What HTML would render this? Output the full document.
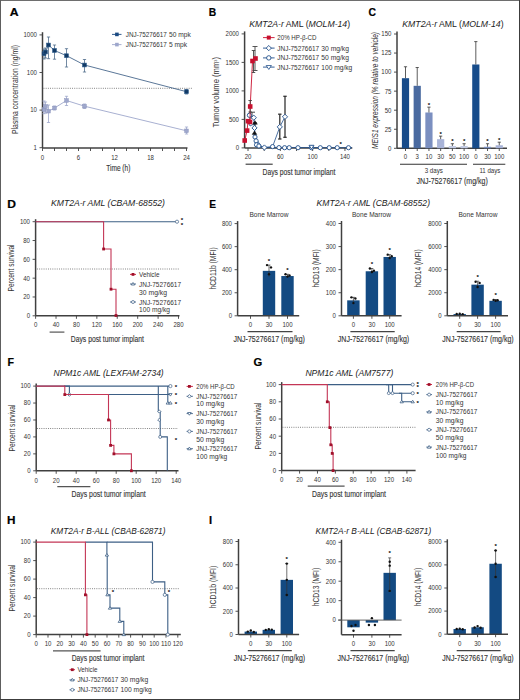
<!DOCTYPE html>
<html><head><meta charset="utf-8"><style>
html,body{margin:0;padding:0;background:#fff;}
svg{display:block;font-family:"Liberation Sans", sans-serif;}
</style></head><body>
<svg width="520" height="700" viewBox="0 0 520 700">
<rect x="0" y="0" width="520" height="700" fill="#fff"/>
<text x="0" y="0" font-size="10.9" font-weight="bold" fill="#000" stroke="#000" stroke-width="0.2" transform="translate(9.64 15.95) scale(1.121 1)">A</text>
<line x1="42.5" y1="32.2" x2="42.5" y2="148" stroke="#404040" stroke-width="1.5"/>
<line x1="39.5" y1="34.9" x2="42.5" y2="34.9" stroke="#404040" stroke-width="0.9"/>
<text x="36.9" y="37.28" font-size="6.6" text-anchor="end" fill="#333" textLength="13.48" lengthAdjust="spacingAndGlyphs">1000</text>
<line x1="39.5" y1="72.5" x2="42.5" y2="72.5" stroke="#404040" stroke-width="0.9"/>
<text x="36.9" y="74.88" font-size="6.6" text-anchor="end" fill="#333" textLength="10.11" lengthAdjust="spacingAndGlyphs">100</text>
<line x1="39.5" y1="110.1" x2="42.5" y2="110.1" stroke="#404040" stroke-width="0.9"/>
<text x="36.9" y="112.48" font-size="6.6" text-anchor="end" fill="#333" textLength="6.74" lengthAdjust="spacingAndGlyphs">10</text>
<line x1="39.5" y1="147.7" x2="42.5" y2="147.7" stroke="#404040" stroke-width="0.9"/>
<text x="36.9" y="150.08" font-size="6.6" text-anchor="end" fill="#333" textLength="3.37" lengthAdjust="spacingAndGlyphs">1</text>
<line x1="42.5" y1="148" x2="187.5" y2="148" stroke="#404040" stroke-width="1.5"/>
<line x1="42.5" y1="148" x2="42.5" y2="151" stroke="#404040" stroke-width="0.9"/>
<text x="42.5" y="159.88" font-size="6.6" text-anchor="middle" fill="#333" textLength="3.37" lengthAdjust="spacingAndGlyphs">0</text>
<line x1="54.5" y1="148" x2="54.5" y2="151" stroke="#404040" stroke-width="0.9"/>
<line x1="66.5" y1="148" x2="66.5" y2="151" stroke="#404040" stroke-width="0.9"/>
<line x1="78.5" y1="148" x2="78.5" y2="151" stroke="#404040" stroke-width="0.9"/>
<text x="78.5" y="159.88" font-size="6.6" text-anchor="middle" fill="#333" textLength="3.37" lengthAdjust="spacingAndGlyphs">6</text>
<line x1="90.5" y1="148" x2="90.5" y2="151" stroke="#404040" stroke-width="0.9"/>
<line x1="102.5" y1="148" x2="102.5" y2="151" stroke="#404040" stroke-width="0.9"/>
<line x1="114.5" y1="148" x2="114.5" y2="151" stroke="#404040" stroke-width="0.9"/>
<text x="114.5" y="159.88" font-size="6.6" text-anchor="middle" fill="#333" textLength="6.74" lengthAdjust="spacingAndGlyphs">12</text>
<line x1="126.5" y1="148" x2="126.5" y2="151" stroke="#404040" stroke-width="0.9"/>
<line x1="138.5" y1="148" x2="138.5" y2="151" stroke="#404040" stroke-width="0.9"/>
<line x1="150.5" y1="148" x2="150.5" y2="151" stroke="#404040" stroke-width="0.9"/>
<text x="150.5" y="159.88" font-size="6.6" text-anchor="middle" fill="#333" textLength="6.74" lengthAdjust="spacingAndGlyphs">18</text>
<line x1="162.5" y1="148" x2="162.5" y2="151" stroke="#404040" stroke-width="0.9"/>
<line x1="174.5" y1="148" x2="174.5" y2="151" stroke="#404040" stroke-width="0.9"/>
<line x1="186.5" y1="148" x2="186.5" y2="151" stroke="#404040" stroke-width="0.9"/>
<text x="186.5" y="159.88" font-size="6.6" text-anchor="middle" fill="#333" textLength="6.74" lengthAdjust="spacingAndGlyphs">24</text>
<text x="106.2" y="171.41" font-size="8.6" fill="#333" stroke="#333" stroke-width="0.12" font-style="normal" textLength="24.2" lengthAdjust="spacingAndGlyphs">Time (h)</text>
<text x="17.98" y="89.5" font-size="8.8" fill="#333" stroke="#333" stroke-width="0.0" text-anchor="middle" font-style="normal" textLength="89" lengthAdjust="spacingAndGlyphs" transform="rotate(-90 17.98 89.5)">Plasma concentration (ng/ml)</text>
<line x1="43.5" y1="88.3" x2="193" y2="88.3" stroke="#555" stroke-width="0.8" stroke-dasharray="0.9 1.3"/>
<polyline points="44,109.5 45.5,106.5 48.5,111.2 54.5,108 66.5,100.5 84.5,106.2 186.5,130.8" fill="none" stroke="#9ea7cc" stroke-width="0.9"/>
<line x1="44" y1="101" x2="44" y2="113.7" stroke="#9ea7cc" stroke-width="0.8"/>
<line x1="42.4" y1="101" x2="45.6" y2="101" stroke="#9ea7cc" stroke-width="0.8"/>
<line x1="42.4" y1="113.7" x2="45.6" y2="113.7" stroke="#9ea7cc" stroke-width="0.8"/>
<line x1="45.5" y1="102" x2="45.5" y2="113" stroke="#9ea7cc" stroke-width="0.8"/>
<line x1="43.9" y1="102" x2="47.1" y2="102" stroke="#9ea7cc" stroke-width="0.8"/>
<line x1="43.9" y1="113" x2="47.1" y2="113" stroke="#9ea7cc" stroke-width="0.8"/>
<line x1="48.5" y1="105" x2="48.5" y2="122.5" stroke="#9ea7cc" stroke-width="0.8"/>
<line x1="46.9" y1="105" x2="50.1" y2="105" stroke="#9ea7cc" stroke-width="0.8"/>
<line x1="46.9" y1="122.5" x2="50.1" y2="122.5" stroke="#9ea7cc" stroke-width="0.8"/>
<line x1="54.5" y1="106" x2="54.5" y2="110" stroke="#9ea7cc" stroke-width="0.8"/>
<line x1="52.9" y1="106" x2="56.1" y2="106" stroke="#9ea7cc" stroke-width="0.8"/>
<line x1="52.9" y1="110" x2="56.1" y2="110" stroke="#9ea7cc" stroke-width="0.8"/>
<line x1="66.5" y1="96.3" x2="66.5" y2="105.5" stroke="#9ea7cc" stroke-width="0.8"/>
<line x1="64.9" y1="96.3" x2="68.1" y2="96.3" stroke="#9ea7cc" stroke-width="0.8"/>
<line x1="64.9" y1="105.5" x2="68.1" y2="105.5" stroke="#9ea7cc" stroke-width="0.8"/>
<line x1="84.5" y1="104" x2="84.5" y2="108.5" stroke="#9ea7cc" stroke-width="0.8"/>
<line x1="82.9" y1="104" x2="86.1" y2="104" stroke="#9ea7cc" stroke-width="0.8"/>
<line x1="82.9" y1="108.5" x2="86.1" y2="108.5" stroke="#9ea7cc" stroke-width="0.8"/>
<line x1="186.5" y1="127" x2="186.5" y2="134" stroke="#9ea7cc" stroke-width="0.8"/>
<line x1="184.9" y1="127" x2="188.1" y2="127" stroke="#9ea7cc" stroke-width="0.8"/>
<line x1="184.9" y1="134" x2="188.1" y2="134" stroke="#9ea7cc" stroke-width="0.8"/>
<rect x="42.2" y="107.7" width="3.6" height="3.6" fill="#9ea7cc" stroke="#8a93bb" stroke-width="0.5"/>
<rect x="43.7" y="104.7" width="3.6" height="3.6" fill="#9ea7cc" stroke="#8a93bb" stroke-width="0.5"/>
<rect x="46.7" y="109.4" width="3.6" height="3.6" fill="#9ea7cc" stroke="#8a93bb" stroke-width="0.5"/>
<rect x="52.7" y="106.2" width="3.6" height="3.6" fill="#9ea7cc" stroke="#8a93bb" stroke-width="0.5"/>
<rect x="64.7" y="98.7" width="3.6" height="3.6" fill="#9ea7cc" stroke="#8a93bb" stroke-width="0.5"/>
<rect x="82.7" y="104.4" width="3.6" height="3.6" fill="#9ea7cc" stroke="#8a93bb" stroke-width="0.5"/>
<rect x="184.7" y="129" width="3.6" height="3.6" fill="#9ea7cc" stroke="#8a93bb" stroke-width="0.5"/>
<polyline points="44,53.7 45.5,52 48.5,45 54.5,50.5 66.5,55.7 84.5,65 186.5,91.7" fill="none" stroke="#3d5f85" stroke-width="0.85"/>
<line x1="44" y1="49" x2="44" y2="59" stroke="#4f6c8c" stroke-width="0.8"/>
<line x1="42.4" y1="49" x2="45.6" y2="49" stroke="#4f6c8c" stroke-width="0.8"/>
<line x1="42.4" y1="59" x2="45.6" y2="59" stroke="#4f6c8c" stroke-width="0.8"/>
<line x1="45.5" y1="48" x2="45.5" y2="58" stroke="#4f6c8c" stroke-width="0.8"/>
<line x1="43.9" y1="48" x2="47.1" y2="48" stroke="#4f6c8c" stroke-width="0.8"/>
<line x1="43.9" y1="58" x2="47.1" y2="58" stroke="#4f6c8c" stroke-width="0.8"/>
<line x1="48.5" y1="37" x2="48.5" y2="58.7" stroke="#4f6c8c" stroke-width="0.8"/>
<line x1="46.9" y1="37" x2="50.1" y2="37" stroke="#4f6c8c" stroke-width="0.8"/>
<line x1="46.9" y1="58.7" x2="50.1" y2="58.7" stroke="#4f6c8c" stroke-width="0.8"/>
<line x1="54.5" y1="45" x2="54.5" y2="59.2" stroke="#4f6c8c" stroke-width="0.8"/>
<line x1="52.9" y1="45" x2="56.1" y2="45" stroke="#4f6c8c" stroke-width="0.8"/>
<line x1="52.9" y1="59.2" x2="56.1" y2="59.2" stroke="#4f6c8c" stroke-width="0.8"/>
<line x1="66.5" y1="48.7" x2="66.5" y2="67" stroke="#4f6c8c" stroke-width="0.8"/>
<line x1="64.9" y1="48.7" x2="68.1" y2="48.7" stroke="#4f6c8c" stroke-width="0.8"/>
<line x1="64.9" y1="67" x2="68.1" y2="67" stroke="#4f6c8c" stroke-width="0.8"/>
<line x1="84.5" y1="59.5" x2="84.5" y2="72" stroke="#4f6c8c" stroke-width="0.8"/>
<line x1="82.9" y1="59.5" x2="86.1" y2="59.5" stroke="#4f6c8c" stroke-width="0.8"/>
<line x1="82.9" y1="72" x2="86.1" y2="72" stroke="#4f6c8c" stroke-width="0.8"/>
<line x1="186.5" y1="89.5" x2="186.5" y2="94" stroke="#4f6c8c" stroke-width="0.8"/>
<line x1="184.9" y1="89.5" x2="188.1" y2="89.5" stroke="#4f6c8c" stroke-width="0.8"/>
<line x1="184.9" y1="94" x2="188.1" y2="94" stroke="#4f6c8c" stroke-width="0.8"/>
<rect x="42.1" y="51.8" width="3.8" height="3.8" fill="#123a66" stroke="#2c5a8a" stroke-width="0.6"/>
<rect x="43.6" y="50.1" width="3.8" height="3.8" fill="#123a66" stroke="#2c5a8a" stroke-width="0.6"/>
<rect x="46.6" y="43.1" width="3.8" height="3.8" fill="#123a66" stroke="#2c5a8a" stroke-width="0.6"/>
<rect x="52.6" y="48.6" width="3.8" height="3.8" fill="#123a66" stroke="#2c5a8a" stroke-width="0.6"/>
<rect x="64.6" y="53.8" width="3.8" height="3.8" fill="#123a66" stroke="#2c5a8a" stroke-width="0.6"/>
<rect x="82.6" y="63.1" width="3.8" height="3.8" fill="#123a66" stroke="#2c5a8a" stroke-width="0.6"/>
<rect x="184.6" y="89.8" width="3.8" height="3.8" fill="#123a66" stroke="#2c5a8a" stroke-width="0.6"/>
<line x1="112" y1="34.4" x2="121.5" y2="34.4" stroke="#1b4a82" stroke-width="0.9"/>
<rect x="115.1" y="32.6" width="3.6" height="3.6" fill="#1b4a82"/>
<text x="125.8" y="37.02" font-size="7.2" fill="#333" stroke="#333" stroke-width="0" font-style="normal" textLength="41.1" lengthAdjust="spacingAndGlyphs">JNJ-75276617</text>
<text x="169" y="37.02" font-size="7.2" fill="#333" stroke="#333" stroke-width="0" font-style="normal" textLength="21.7" lengthAdjust="spacingAndGlyphs">50 mpk</text>
<line x1="112" y1="44.6" x2="121.5" y2="44.6" stroke="#9ea7cc" stroke-width="0.9"/>
<rect x="115.1" y="42.8" width="3.6" height="3.6" fill="#9ea7cc"/>
<text x="125.8" y="47.12" font-size="7.2" fill="#333" stroke="#333" stroke-width="0" font-style="normal" textLength="41.1" lengthAdjust="spacingAndGlyphs">JNJ-75276617</text>
<text x="169" y="47.12" font-size="7.2" fill="#333" stroke="#333" stroke-width="0" font-style="normal" textLength="18.1" lengthAdjust="spacingAndGlyphs">5 mpk</text>
<text x="0" y="0" font-size="11.19" font-weight="bold" fill="#000" stroke="#000" stroke-width="0.2" transform="translate(208.86 15.85) scale(0.923 1)">B</text>
<text x="249.2" y="27.03" font-size="8.2" fill="#222" stroke="#222" stroke-width="0.0" textLength="100.9" lengthAdjust="spacingAndGlyphs"><tspan font-style="italic">KMT2A-r</tspan><tspan> AML (</tspan><tspan font-style="italic">MOLM-14</tspan><tspan>)</tspan></text>
<line x1="244.6" y1="31.4" x2="244.6" y2="148" stroke="#404040" stroke-width="1.5"/>
<line x1="241.6" y1="147.9" x2="244.6" y2="147.9" stroke="#404040" stroke-width="0.9"/>
<text x="239" y="150.28" font-size="6.6" text-anchor="end" fill="#333" textLength="3.37" lengthAdjust="spacingAndGlyphs">0</text>
<line x1="241.6" y1="119.4" x2="244.6" y2="119.4" stroke="#404040" stroke-width="0.9"/>
<text x="239" y="121.78" font-size="6.6" text-anchor="end" fill="#333" textLength="10.11" lengthAdjust="spacingAndGlyphs">500</text>
<line x1="241.6" y1="90.9" x2="244.6" y2="90.9" stroke="#404040" stroke-width="0.9"/>
<text x="239" y="93.28" font-size="6.6" text-anchor="end" fill="#333" textLength="13.48" lengthAdjust="spacingAndGlyphs">1000</text>
<line x1="241.6" y1="62.4" x2="244.6" y2="62.4" stroke="#404040" stroke-width="0.9"/>
<text x="239" y="64.78" font-size="6.6" text-anchor="end" fill="#333" textLength="13.48" lengthAdjust="spacingAndGlyphs">1500</text>
<line x1="241.6" y1="33.9" x2="244.6" y2="33.9" stroke="#404040" stroke-width="0.9"/>
<text x="239" y="36.28" font-size="6.6" text-anchor="end" fill="#333" textLength="13.48" lengthAdjust="spacingAndGlyphs">2000</text>
<line x1="244.6" y1="148" x2="352.3" y2="148" stroke="#404040" stroke-width="1.5"/>
<line x1="248" y1="148" x2="248" y2="151" stroke="#404040" stroke-width="0.9"/>
<line x1="264.16" y1="148" x2="264.16" y2="151" stroke="#404040" stroke-width="0.9"/>
<line x1="280.32" y1="148" x2="280.32" y2="151" stroke="#404040" stroke-width="0.9"/>
<line x1="296.48" y1="148" x2="296.48" y2="151" stroke="#404040" stroke-width="0.9"/>
<line x1="312.64" y1="148" x2="312.64" y2="151" stroke="#404040" stroke-width="0.9"/>
<line x1="328.8" y1="148" x2="328.8" y2="151" stroke="#404040" stroke-width="0.9"/>
<line x1="344.96" y1="148" x2="344.96" y2="151" stroke="#404040" stroke-width="0.9"/>
<text x="248" y="159.38" font-size="6.6" text-anchor="middle" fill="#333" textLength="6.74" lengthAdjust="spacingAndGlyphs">20</text>
<text x="280.32" y="159.38" font-size="6.6" text-anchor="middle" fill="#333" textLength="6.74" lengthAdjust="spacingAndGlyphs">60</text>
<text x="312.64" y="159.38" font-size="6.6" text-anchor="middle" fill="#333" textLength="10.11" lengthAdjust="spacingAndGlyphs">100</text>
<text x="344.96" y="159.38" font-size="6.6" text-anchor="middle" fill="#333" textLength="10.11" lengthAdjust="spacingAndGlyphs">140</text>
<line x1="245.6" y1="164.2" x2="272.7" y2="164.2" stroke="#333" stroke-width="1.1"/>
<text x="262.5" y="175.21" font-size="8.6" fill="#333" stroke="#333" stroke-width="0.12" font-style="normal" textLength="72.9" lengthAdjust="spacingAndGlyphs">Days post tumor implant</text>
<text x="219.37" y="92.3" font-size="8.2" fill="#333" stroke="#333" stroke-width="0.0" text-anchor="middle" font-style="normal" textLength="70.6" lengthAdjust="spacingAndGlyphs" transform="rotate(-90 219.37 92.3)">Tumor volume (mm<tspan baseline-shift="super" font-size="4">3</tspan>)</text>
<path d="M249.4,115.3 L253.8,117.7 L254.5,127.9 L255,137 L256.1,140.9 L256.5,144.8 L258.9,146 L264.4,147.5 L272.6,146.6 L279.8,126.9 L285,116.8" stroke="#1f4e8a" stroke-width="0.8" fill="none"/>
<path d="M247.5,121 L250,126 L254,124 L255,122.8 L254.5,133 L257,140 L262,147.4 L352,147.7" stroke="#1f4e8a" stroke-width="0.8" fill="none"/>
<line x1="252" y1="112.2" x2="252" y2="118" stroke="#333" stroke-width="0.9"/>
<line x1="249" y1="112.2" x2="255" y2="112.2" stroke="#333" stroke-width="0.9"/>
<line x1="249" y1="118" x2="255" y2="118" stroke="#333" stroke-width="0.9"/>
<line x1="255" y1="122.8" x2="255" y2="128" stroke="#333" stroke-width="0.9"/>
<line x1="253" y1="122.8" x2="257" y2="122.8" stroke="#333" stroke-width="0.9"/>
<line x1="253" y1="128" x2="257" y2="128" stroke="#333" stroke-width="0.9"/>
<line x1="279.8" y1="114.2" x2="279.8" y2="139" stroke="#333" stroke-width="1.3"/>
<line x1="278.1" y1="114.2" x2="281.5" y2="114.2" stroke="#333" stroke-width="1.3"/>
<line x1="278.1" y1="139" x2="281.5" y2="139" stroke="#333" stroke-width="1.3"/>
<line x1="285" y1="96.3" x2="285" y2="137.3" stroke="#333" stroke-width="1.3"/>
<line x1="283.3" y1="96.3" x2="286.7" y2="96.3" stroke="#333" stroke-width="1.3"/>
<line x1="283.3" y1="137.3" x2="286.7" y2="137.3" stroke="#333" stroke-width="1.3"/>
<circle cx="249.4" cy="115.3" r="2.1" fill="#fff" stroke="#1f4e8a" stroke-width="0.9"/>
<circle cx="255" cy="137" r="2.1" fill="#fff" stroke="#1f4e8a" stroke-width="0.9"/>
<circle cx="256.1" cy="140.9" r="2.1" fill="#fff" stroke="#1f4e8a" stroke-width="0.9"/>
<circle cx="256.5" cy="144.8" r="2.1" fill="#fff" stroke="#1f4e8a" stroke-width="0.9"/>
<circle cx="258.9" cy="146" r="2.1" fill="#fff" stroke="#1f4e8a" stroke-width="0.9"/>
<circle cx="272.6" cy="146.6" r="2.1" fill="#fff" stroke="#1f4e8a" stroke-width="0.9"/>
<circle cx="279" cy="147.6" r="2.1" fill="#fff" stroke="#1f4e8a" stroke-width="0.9"/>
<circle cx="284.6" cy="147.7" r="2.1" fill="#fff" stroke="#1f4e8a" stroke-width="0.9"/>
<circle cx="289.2" cy="147.7" r="2.1" fill="#fff" stroke="#1f4e8a" stroke-width="0.9"/>
<circle cx="298" cy="147.7" r="2.1" fill="#fff" stroke="#1f4e8a" stroke-width="0.9"/>
<circle cx="311.5" cy="147.7" r="2.1" fill="#fff" stroke="#1f4e8a" stroke-width="0.9"/>
<circle cx="320.3" cy="147.7" r="2.1" fill="#fff" stroke="#1f4e8a" stroke-width="0.9"/>
<circle cx="329.2" cy="147.7" r="2.1" fill="#fff" stroke="#1f4e8a" stroke-width="0.9"/>
<circle cx="337.2" cy="147.7" r="2.1" fill="#fff" stroke="#1f4e8a" stroke-width="0.9"/>
<circle cx="348.5" cy="147.7" r="2.1" fill="#fff" stroke="#1f4e8a" stroke-width="0.9"/>
<path d="M253.8,115.1L256.4,117.7L253.8,120.3L251.2,117.7Z" fill="#fff" stroke="#1f4e8a" stroke-width="0.9"/>
<path d="M254.5,125.3L257.1,127.9L254.5,130.5L251.9,127.9Z" fill="#fff" stroke="#1f4e8a" stroke-width="0.9"/>
<path d="M264.4,144.9L267,147.5L264.4,150.1L261.8,147.5Z" fill="#fff" stroke="#1f4e8a" stroke-width="0.9"/>
<path d="M279.8,124.3L282.4,126.9L279.8,129.5L277.2,126.9Z" fill="#fff" stroke="#1f4e8a" stroke-width="0.9"/>
<path d="M285,114.2L287.6,116.8L285,119.4L282.4,116.8Z" fill="#fff" stroke="#1f4e8a" stroke-width="0.9"/>
<path d="M252.7,124.18L257.3,124.18L255,120.73Z" fill="#111" stroke="#111" stroke-width="0.5"/>
<path d="M252.2,134.38L256.8,134.38L254.5,130.93Z" fill="#111" stroke="#111" stroke-width="0.5"/>
<path d="M309,145.3L314,145.3L311.5,149.05Z" fill="#fff" stroke="#1f4e8a" stroke-width="0.9"/>
<path d="M244.7,140.5 L247.1,130.6 L248,121.2 L250,122 L250.2,106.5 L252.5,61 L255.5,58.5" stroke="#c8102e" stroke-width="0.9" fill="none"/>
<line x1="250.2" y1="100.5" x2="250.2" y2="112" stroke="#444" stroke-width="0.9"/>
<line x1="248.45" y1="100.5" x2="251.95" y2="100.5" stroke="#444" stroke-width="0.9"/>
<line x1="248.45" y1="112" x2="251.95" y2="112" stroke="#444" stroke-width="0.9"/>
<line x1="253.5" y1="50.5" x2="253.5" y2="72.5" stroke="#444" stroke-width="0.9"/>
<line x1="251.75" y1="50.5" x2="255.25" y2="50.5" stroke="#444" stroke-width="0.9"/>
<line x1="251.75" y1="72.5" x2="255.25" y2="72.5" stroke="#444" stroke-width="0.9"/>
<line x1="255" y1="46.5" x2="255" y2="70.5" stroke="#444" stroke-width="0.9"/>
<line x1="252.5" y1="46.5" x2="257.5" y2="46.5" stroke="#444" stroke-width="0.9"/>
<line x1="252.5" y1="70.5" x2="257.5" y2="70.5" stroke="#444" stroke-width="0.9"/>
<rect x="242.4" y="138.2" width="4.6" height="4.6" fill="#c8102e"/>
<rect x="244.8" y="128.3" width="4.6" height="4.6" fill="#c8102e"/>
<rect x="245.7" y="118.9" width="4.6" height="4.6" fill="#c8102e"/>
<rect x="247.7" y="119.7" width="4.6" height="4.6" fill="#c8102e"/>
<rect x="247.9" y="104.2" width="4.6" height="4.6" fill="#c8102e"/>
<rect x="250.2" y="58.7" width="4.6" height="4.6" fill="#c8102e"/>
<rect x="253.2" y="56.2" width="4.6" height="4.6" fill="#c8102e"/>
<text x="340.8" y="145.6" font-size="6.2" text-anchor="middle" font-weight="bold">*</text>
<line x1="263" y1="37.6" x2="274.6" y2="37.6" stroke="#c8102e" stroke-width="0.9"/>
<rect x="266.8" y="35.6" width="4" height="4" fill="#c8102e"/>
<line x1="263" y1="48.1" x2="274.6" y2="48.1" stroke="#1f4e8a" stroke-width="0.9"/>
<path d="M268.8,45.5L271.4,48.1L268.8,50.7L266.2,48.1Z" fill="#fff" stroke="#1f4e8a" stroke-width="0.9"/>
<line x1="263" y1="57.9" x2="274.6" y2="57.9" stroke="#1f4e8a" stroke-width="0.9"/>
<circle cx="268.8" cy="57.9" r="2.2" fill="#fff" stroke="#1f4e8a" stroke-width="0.9"/>
<line x1="263" y1="67.1" x2="274.6" y2="67.1" stroke="#1f4e8a" stroke-width="0.9"/>
<path d="M266.2,65.54L271.4,65.54L268.8,69.44Z" fill="#fff" stroke="#1f4e8a" stroke-width="0.8"/>
<text x="277.3" y="40.12" font-size="7.2" fill="#333" stroke="#333" stroke-width="0" font-style="normal" textLength="39.2" lengthAdjust="spacingAndGlyphs">20% HP-β-CD</text>
<text x="277.3" y="50.62" font-size="7.2" fill="#333" stroke="#333" stroke-width="0" font-style="normal" textLength="41.9" lengthAdjust="spacingAndGlyphs">JNJ-75276617</text>
<text x="321.3" y="50.62" font-size="7.2" fill="#333" stroke="#333" stroke-width="0" font-style="normal" textLength="27.7" lengthAdjust="spacingAndGlyphs">30 mg/kg</text>
<text x="277.3" y="60.42" font-size="7.2" fill="#333" stroke="#333" stroke-width="0" font-style="normal" textLength="41.9" lengthAdjust="spacingAndGlyphs">JNJ-75276617</text>
<text x="321.3" y="60.42" font-size="7.2" fill="#333" stroke="#333" stroke-width="0" font-style="normal" textLength="27.7" lengthAdjust="spacingAndGlyphs">50 mg/kg</text>
<text x="277.3" y="69.62" font-size="7.2" fill="#333" stroke="#333" stroke-width="0" font-style="normal" textLength="41.9" lengthAdjust="spacingAndGlyphs">JNJ-75276617</text>
<text x="321.3" y="69.62" font-size="7.2" fill="#333" stroke="#333" stroke-width="0" font-style="normal" textLength="31" lengthAdjust="spacingAndGlyphs">100 mg/kg</text>
<text x="0" y="0" font-size="11.3" font-weight="bold" fill="#000" stroke="#000" stroke-width="0.2" transform="translate(368.62 16.04) scale(0.920 1)">C</text>
<text x="402.3" y="26.63" font-size="8.2" fill="#222" stroke="#222" stroke-width="0.0" textLength="101.3" lengthAdjust="spacingAndGlyphs"><tspan font-style="italic">KMT2A-r</tspan><tspan> AML (</tspan><tspan font-style="italic">MOLM-14</tspan><tspan>)</tspan></text>
<line x1="397" y1="31.5" x2="397" y2="148.3" stroke="#404040" stroke-width="1.5"/>
<line x1="394" y1="148.3" x2="397" y2="148.3" stroke="#404040" stroke-width="0.9"/>
<text x="391.4" y="150.68" font-size="6.6" text-anchor="end" fill="#333" textLength="3.37" lengthAdjust="spacingAndGlyphs">0</text>
<line x1="394" y1="129.25" x2="397" y2="129.25" stroke="#404040" stroke-width="0.9"/>
<text x="391.4" y="131.63" font-size="6.6" text-anchor="end" fill="#333" textLength="6.74" lengthAdjust="spacingAndGlyphs">25</text>
<line x1="394" y1="110.2" x2="397" y2="110.2" stroke="#404040" stroke-width="0.9"/>
<text x="391.4" y="112.58" font-size="6.6" text-anchor="end" fill="#333" textLength="6.74" lengthAdjust="spacingAndGlyphs">50</text>
<line x1="394" y1="91.15" x2="397" y2="91.15" stroke="#404040" stroke-width="0.9"/>
<text x="391.4" y="93.53" font-size="6.6" text-anchor="end" fill="#333" textLength="6.74" lengthAdjust="spacingAndGlyphs">75</text>
<line x1="394" y1="72.1" x2="397" y2="72.1" stroke="#404040" stroke-width="0.9"/>
<text x="391.4" y="74.48" font-size="6.6" text-anchor="end" fill="#333" textLength="10.11" lengthAdjust="spacingAndGlyphs">100</text>
<line x1="394" y1="53.05" x2="397" y2="53.05" stroke="#404040" stroke-width="0.9"/>
<text x="391.4" y="55.43" font-size="6.6" text-anchor="end" fill="#333" textLength="10.11" lengthAdjust="spacingAndGlyphs">125</text>
<line x1="394" y1="34" x2="397" y2="34" stroke="#404040" stroke-width="0.9"/>
<text x="391.4" y="36.38" font-size="6.6" text-anchor="end" fill="#333" textLength="10.11" lengthAdjust="spacingAndGlyphs">150</text>
<line x1="397" y1="148.3" x2="507" y2="148.3" stroke="#404040" stroke-width="1.5"/>
<rect x="401.9" y="78.2" width="7.2" height="70.1" fill="#184c8a"/>
<line x1="405.5" y1="78.2" x2="405.5" y2="66.77" stroke="#333" stroke-width="0.8"/>
<line x1="403.9" y1="66.77" x2="407.1" y2="66.77" stroke="#333" stroke-width="0.8"/>
<line x1="405.5" y1="148.3" x2="405.5" y2="151" stroke="#404040" stroke-width="0.9"/>
<text x="405.5" y="158.88" font-size="6.6" text-anchor="middle" fill="#333" textLength="3.37" lengthAdjust="spacingAndGlyphs">0</text>
<rect x="413.62" y="85.82" width="7.2" height="62.48" fill="#4a6aa0"/>
<line x1="417.22" y1="85.82" x2="417.22" y2="67.53" stroke="#333" stroke-width="0.8"/>
<line x1="415.62" y1="67.53" x2="418.82" y2="67.53" stroke="#333" stroke-width="0.8"/>
<line x1="417.22" y1="148.3" x2="417.22" y2="151" stroke="#404040" stroke-width="0.9"/>
<text x="417.22" y="158.88" font-size="6.6" text-anchor="middle" fill="#333" textLength="3.37" lengthAdjust="spacingAndGlyphs">3</text>
<rect x="425.34" y="112.49" width="7.2" height="35.81" fill="#7b8fc0"/>
<line x1="428.94" y1="112.49" x2="428.94" y2="107.15" stroke="#333" stroke-width="0.8"/>
<line x1="427.34" y1="107.15" x2="430.54" y2="107.15" stroke="#333" stroke-width="0.8"/>
<line x1="428.94" y1="148.3" x2="428.94" y2="151" stroke="#404040" stroke-width="0.9"/>
<text x="428.94" y="158.88" font-size="6.6" text-anchor="middle" fill="#333" textLength="6.74" lengthAdjust="spacingAndGlyphs">10</text>
<text x="428.94" y="106.55" font-size="6.2" text-anchor="middle" font-weight="bold">*</text>
<rect x="437.06" y="139.16" width="7.2" height="9.14" fill="#a9b4d8"/>
<line x1="440.66" y1="139.16" x2="440.66" y2="136.11" stroke="#333" stroke-width="0.8"/>
<line x1="439.06" y1="136.11" x2="442.26" y2="136.11" stroke="#333" stroke-width="0.8"/>
<line x1="440.66" y1="148.3" x2="440.66" y2="151" stroke="#404040" stroke-width="0.9"/>
<text x="440.66" y="158.88" font-size="6.6" text-anchor="middle" fill="#333" textLength="6.74" lengthAdjust="spacingAndGlyphs">30</text>
<text x="440.66" y="135.51" font-size="6.2" text-anchor="middle" font-weight="bold">*</text>
<rect x="448.78" y="146.01" width="7.2" height="2.29" fill="#c3cbe3"/>
<line x1="452.38" y1="146.01" x2="452.38" y2="143.73" stroke="#333" stroke-width="0.8"/>
<line x1="450.78" y1="143.73" x2="453.98" y2="143.73" stroke="#333" stroke-width="0.8"/>
<line x1="452.38" y1="148.3" x2="452.38" y2="151" stroke="#404040" stroke-width="0.9"/>
<text x="452.38" y="158.88" font-size="6.6" text-anchor="middle" fill="#333" textLength="6.74" lengthAdjust="spacingAndGlyphs">50</text>
<text x="452.38" y="143.13" font-size="6.2" text-anchor="middle" font-weight="bold">*</text>
<rect x="460.5" y="146.01" width="7.2" height="2.29" fill="#c3cbe3"/>
<line x1="464.1" y1="146.01" x2="464.1" y2="143.73" stroke="#333" stroke-width="0.8"/>
<line x1="462.5" y1="143.73" x2="465.7" y2="143.73" stroke="#333" stroke-width="0.8"/>
<line x1="464.1" y1="148.3" x2="464.1" y2="151" stroke="#404040" stroke-width="0.9"/>
<text x="464.1" y="158.88" font-size="6.6" text-anchor="middle" fill="#333" textLength="10.11" lengthAdjust="spacingAndGlyphs">100</text>
<text x="464.1" y="143.13" font-size="6.2" text-anchor="middle" font-weight="bold">*</text>
<rect x="472.22" y="64.48" width="7.2" height="83.82" fill="#184c8a"/>
<line x1="475.82" y1="64.48" x2="475.82" y2="41.62" stroke="#333" stroke-width="0.8"/>
<line x1="474.22" y1="41.62" x2="477.42" y2="41.62" stroke="#333" stroke-width="0.8"/>
<line x1="475.82" y1="148.3" x2="475.82" y2="151" stroke="#404040" stroke-width="0.9"/>
<text x="475.82" y="158.88" font-size="6.6" text-anchor="middle" fill="#333" textLength="3.37" lengthAdjust="spacingAndGlyphs">0</text>
<rect x="483.94" y="146.78" width="7.2" height="1.52" fill="#7b8fc0"/>
<line x1="487.54" y1="146.78" x2="487.54" y2="143.73" stroke="#333" stroke-width="0.8"/>
<line x1="485.94" y1="143.73" x2="489.14" y2="143.73" stroke="#333" stroke-width="0.8"/>
<line x1="487.54" y1="148.3" x2="487.54" y2="151" stroke="#404040" stroke-width="0.9"/>
<text x="487.54" y="158.88" font-size="6.6" text-anchor="middle" fill="#333" textLength="6.74" lengthAdjust="spacingAndGlyphs">30</text>
<text x="487.54" y="143.13" font-size="6.2" text-anchor="middle" font-weight="bold">*</text>
<rect x="495.66" y="145.25" width="7.2" height="3.05" fill="#a9b4d8"/>
<line x1="499.26" y1="145.25" x2="499.26" y2="142.2" stroke="#333" stroke-width="0.8"/>
<line x1="497.66" y1="142.2" x2="500.86" y2="142.2" stroke="#333" stroke-width="0.8"/>
<line x1="499.26" y1="148.3" x2="499.26" y2="151" stroke="#404040" stroke-width="0.9"/>
<text x="499.26" y="158.88" font-size="6.6" text-anchor="middle" fill="#333" textLength="10.11" lengthAdjust="spacingAndGlyphs">100</text>
<text x="499.26" y="141.6" font-size="6.2" text-anchor="middle" font-weight="bold">*</text>
<line x1="400" y1="164.2" x2="467" y2="164.2" stroke="#333" stroke-width="1.1"/>
<line x1="473" y1="164.2" x2="505.3" y2="164.2" stroke="#333" stroke-width="1.1"/>
<text x="424.7" y="173.12" font-size="7.2" fill="#333" stroke="#333" stroke-width="0" font-style="normal" textLength="18.2" lengthAdjust="spacingAndGlyphs">3 days</text>
<text x="479.4" y="173.12" font-size="7.2" fill="#333" stroke="#333" stroke-width="0" font-style="normal" textLength="21" lengthAdjust="spacingAndGlyphs">11 days</text>
<text x="416.4" y="184.21" font-size="8.6" fill="#333" stroke="#333" stroke-width="0.12" font-style="normal" textLength="71.4" lengthAdjust="spacingAndGlyphs">JNJ-75276617 (mg/kg)</text>
<text x="378.17" y="90.5" font-size="8.2" fill="#333" stroke="#333" stroke-width="0.0" text-anchor="middle" font-style="normal" textLength="117" lengthAdjust="spacingAndGlyphs" transform="rotate(-90 378.17 90.5)"><tspan font-style="italic">MEIS1</tspan><tspan font-style="italic"> expression (% relative to vehicle)</tspan></text>
<text x="0" y="0" font-size="10.76" font-weight="bold" fill="#000" stroke="#000" stroke-width="0.2" transform="translate(7.34 207.85) scale(1.122 1)">D</text>
<text x="51" y="206.13" font-size="8.2" fill="#222" stroke="#222" stroke-width="0.0" textLength="114" lengthAdjust="spacingAndGlyphs"><tspan font-style="italic">KMT2A-r AML (CBAM-68552)</tspan></text>
<line x1="35.6" y1="219.2" x2="35.6" y2="315.8" stroke="#404040" stroke-width="1.5"/>
<line x1="32.6" y1="315.8" x2="35.6" y2="315.8" stroke="#404040" stroke-width="0.9"/>
<text x="30" y="318.18" font-size="6.6" text-anchor="end" fill="#333" textLength="3.37" lengthAdjust="spacingAndGlyphs">0</text>
<line x1="32.6" y1="296.98" x2="35.6" y2="296.98" stroke="#404040" stroke-width="0.9"/>
<text x="30" y="299.36" font-size="6.6" text-anchor="end" fill="#333" textLength="6.74" lengthAdjust="spacingAndGlyphs">20</text>
<line x1="32.6" y1="278.16" x2="35.6" y2="278.16" stroke="#404040" stroke-width="0.9"/>
<text x="30" y="280.54" font-size="6.6" text-anchor="end" fill="#333" textLength="6.74" lengthAdjust="spacingAndGlyphs">40</text>
<line x1="32.6" y1="259.34" x2="35.6" y2="259.34" stroke="#404040" stroke-width="0.9"/>
<text x="30" y="261.72" font-size="6.6" text-anchor="end" fill="#333" textLength="6.74" lengthAdjust="spacingAndGlyphs">60</text>
<line x1="32.6" y1="240.52" x2="35.6" y2="240.52" stroke="#404040" stroke-width="0.9"/>
<text x="30" y="242.9" font-size="6.6" text-anchor="end" fill="#333" textLength="6.74" lengthAdjust="spacingAndGlyphs">80</text>
<line x1="32.6" y1="221.7" x2="35.6" y2="221.7" stroke="#404040" stroke-width="0.9"/>
<text x="30" y="224.08" font-size="6.6" text-anchor="end" fill="#333" textLength="10.11" lengthAdjust="spacingAndGlyphs">100</text>
<line x1="35.6" y1="315.8" x2="179.5" y2="315.8" stroke="#404040" stroke-width="1.5"/>
<line x1="35.6" y1="315.8" x2="35.6" y2="318.8" stroke="#404040" stroke-width="0.9"/>
<text x="35.6" y="327.38" font-size="6.6" text-anchor="middle" fill="#333" textLength="3.37" lengthAdjust="spacingAndGlyphs">0</text>
<line x1="56.02" y1="315.8" x2="56.02" y2="318.8" stroke="#404040" stroke-width="0.9"/>
<text x="56.02" y="327.38" font-size="6.6" text-anchor="middle" fill="#333" textLength="6.74" lengthAdjust="spacingAndGlyphs">40</text>
<line x1="76.43" y1="315.8" x2="76.43" y2="318.8" stroke="#404040" stroke-width="0.9"/>
<text x="76.43" y="327.38" font-size="6.6" text-anchor="middle" fill="#333" textLength="6.74" lengthAdjust="spacingAndGlyphs">80</text>
<line x1="96.85" y1="315.8" x2="96.85" y2="318.8" stroke="#404040" stroke-width="0.9"/>
<text x="96.85" y="327.38" font-size="6.6" text-anchor="middle" fill="#333" textLength="10.11" lengthAdjust="spacingAndGlyphs">120</text>
<line x1="117.26" y1="315.8" x2="117.26" y2="318.8" stroke="#404040" stroke-width="0.9"/>
<text x="117.26" y="327.38" font-size="6.6" text-anchor="middle" fill="#333" textLength="10.11" lengthAdjust="spacingAndGlyphs">160</text>
<line x1="137.68" y1="315.8" x2="137.68" y2="318.8" stroke="#404040" stroke-width="0.9"/>
<text x="137.68" y="327.38" font-size="6.6" text-anchor="middle" fill="#333" textLength="10.11" lengthAdjust="spacingAndGlyphs">200</text>
<line x1="158.1" y1="315.8" x2="158.1" y2="318.8" stroke="#404040" stroke-width="0.9"/>
<text x="158.1" y="327.38" font-size="6.6" text-anchor="middle" fill="#333" textLength="10.11" lengthAdjust="spacingAndGlyphs">240</text>
<line x1="178.51" y1="315.8" x2="178.51" y2="318.8" stroke="#404040" stroke-width="0.9"/>
<text x="178.51" y="327.38" font-size="6.6" text-anchor="middle" fill="#333" textLength="10.11" lengthAdjust="spacingAndGlyphs">280</text>
<line x1="49.6" y1="332.1" x2="64.4" y2="332.1" stroke="#555" stroke-width="1.2"/>
<text x="70.8" y="342.31" font-size="8.6" fill="#333" stroke="#333" stroke-width="0.12" font-style="normal" textLength="73.1" lengthAdjust="spacingAndGlyphs">Days post tumor implant</text>
<text x="14.28" y="267.9" font-size="8.8" fill="#333" stroke="#333" stroke-width="0.0" text-anchor="middle" font-style="normal" textLength="47" lengthAdjust="spacingAndGlyphs" transform="rotate(-90 14.28 267.9)">Percent survival</text>
<line x1="37" y1="269" x2="179" y2="269" stroke="#555" stroke-width="0.8" stroke-dasharray="0.9 1.3"/>
<path d="M35.6,221.7 H177" stroke="#3d5f85" stroke-width="1.1" fill="none"/>
<circle cx="177" cy="221.7" r="1.6" fill="#fff" stroke="#3d5f85" stroke-width="0.7"/>
<path d="M35.6,221.7 H103.6 V249 H111 V289.2 H116 V315.8" stroke="#c43656" stroke-width="1.1" fill="none"/>
<rect x="102.2" y="247.6" width="2.8" height="2.8" fill="#a0102a"/>
<rect x="109.6" y="287.8" width="2.8" height="2.8" fill="#a0102a"/>
<rect x="114.6" y="314.1" width="2.8" height="2.8" fill="#a0102a"/>
<text x="182" y="221.9" font-size="6.2" text-anchor="middle" font-weight="bold">*</text>
<text x="182" y="226.6" font-size="6.2" text-anchor="middle" font-weight="bold">*</text>
<line x1="130" y1="274.4" x2="136" y2="274.4" stroke="#c8102e" stroke-width="0.9"/>
<rect x="131.6" y="273" width="2.8" height="2.8" fill="#a0102a"/>
<line x1="130" y1="284" x2="136" y2="284" stroke="#3d5f85" stroke-width="0.9"/>
<path d="M131.3,285.02L134.7,285.02L133,282.47Z" fill="#fff" stroke="#3d5f85" stroke-width="0.8"/>
<line x1="130" y1="302" x2="136" y2="302" stroke="#3d5f85" stroke-width="0.9"/>
<circle cx="133" cy="302" r="1.5" fill="#fff" stroke="#3d5f85" stroke-width="0.7"/>
<text x="139" y="276.92" font-size="7.2" fill="#333" stroke="#333" stroke-width="0" font-style="normal" textLength="20.5" lengthAdjust="spacingAndGlyphs">Vehicle</text>
<text x="139" y="286.52" font-size="7.2" fill="#333" stroke="#333" stroke-width="0" font-style="normal" textLength="42" lengthAdjust="spacingAndGlyphs">JNJ-75276617</text>
<text x="139" y="294.92" font-size="7.2" fill="#333" stroke="#333" stroke-width="0" font-style="normal" textLength="28" lengthAdjust="spacingAndGlyphs">30 mg/kg</text>
<text x="139" y="304.52" font-size="7.2" fill="#333" stroke="#333" stroke-width="0" font-style="normal" textLength="42" lengthAdjust="spacingAndGlyphs">JNJ-75276617</text>
<text x="139" y="312.12" font-size="7.2" fill="#333" stroke="#333" stroke-width="0" font-style="normal" textLength="31" lengthAdjust="spacingAndGlyphs">100 mg/kg</text>
<text x="0" y="0" font-size="10.76" font-weight="bold" fill="#000" stroke="#000" stroke-width="0.2" transform="translate(209.17 207.85) scale(0.945 1)">E</text>
<text x="316.6" y="206.23" font-size="8.2" fill="#222" stroke="#222" stroke-width="0.0" textLength="113.4" lengthAdjust="spacingAndGlyphs"><tspan font-style="italic">KMT2A-r</tspan><tspan font-style="italic"> AML (CBAM-68552)</tspan></text>
<line x1="237.6" y1="221.1" x2="237.6" y2="315.8" stroke="#404040" stroke-width="1.5"/>
<line x1="234.6" y1="315.8" x2="237.6" y2="315.8" stroke="#404040" stroke-width="0.9"/>
<text x="232" y="318.18" font-size="6.6" text-anchor="end" fill="#333" textLength="3.37" lengthAdjust="spacingAndGlyphs">0</text>
<line x1="234.6" y1="292.75" x2="237.6" y2="292.75" stroke="#404040" stroke-width="0.9"/>
<text x="232" y="295.13" font-size="6.6" text-anchor="end" fill="#333" textLength="10.11" lengthAdjust="spacingAndGlyphs">200</text>
<line x1="234.6" y1="269.7" x2="237.6" y2="269.7" stroke="#404040" stroke-width="0.9"/>
<text x="232" y="272.08" font-size="6.6" text-anchor="end" fill="#333" textLength="10.11" lengthAdjust="spacingAndGlyphs">400</text>
<line x1="234.6" y1="246.65" x2="237.6" y2="246.65" stroke="#404040" stroke-width="0.9"/>
<text x="232" y="249.03" font-size="6.6" text-anchor="end" fill="#333" textLength="10.11" lengthAdjust="spacingAndGlyphs">600</text>
<line x1="234.6" y1="223.6" x2="237.6" y2="223.6" stroke="#404040" stroke-width="0.9"/>
<text x="232" y="225.98" font-size="6.6" text-anchor="end" fill="#333" textLength="10.11" lengthAdjust="spacingAndGlyphs">800</text>
<rect x="262.8" y="270.85" width="12.4" height="44.95" fill="#134a82"/>
<line x1="269" y1="265.09" x2="269" y2="276.62" stroke="#333" stroke-width="0.7"/>
<line x1="267.5" y1="265.09" x2="270.5" y2="265.09" stroke="#333" stroke-width="0.7"/>
<rect x="281.3" y="276.04" width="12.4" height="39.76" fill="#134a82"/>
<line x1="287.5" y1="274.31" x2="287.5" y2="277.19" stroke="#333" stroke-width="0.7"/>
<line x1="286" y1="274.31" x2="289" y2="274.31" stroke="#333" stroke-width="0.7"/>
<circle cx="267" cy="265.09" r="1.2" fill="#111" stroke="none" stroke-width="0.8"/>
<circle cx="271" cy="267.39" r="1.2" fill="#111" stroke="none" stroke-width="0.8"/>
<circle cx="269" cy="274.31" r="1.2" fill="#111" stroke="none" stroke-width="0.8"/>
<circle cx="285.5" cy="274.31" r="1.2" fill="#111" stroke="none" stroke-width="0.8"/>
<circle cx="289.5" cy="275.46" r="1.2" fill="#111" stroke="none" stroke-width="0.8"/>
<circle cx="287.5" cy="276.62" r="1.2" fill="#111" stroke="none" stroke-width="0.8"/>
<line x1="237.6" y1="315.8" x2="299.2" y2="315.8" stroke="#404040" stroke-width="1.5"/>
<line x1="250.5" y1="315.8" x2="250.5" y2="318.8" stroke="#404040" stroke-width="0.9"/>
<text x="250.5" y="327.08" font-size="6.6" text-anchor="middle" fill="#333" textLength="3.37" lengthAdjust="spacingAndGlyphs">0</text>
<line x1="269" y1="315.8" x2="269" y2="318.8" stroke="#404040" stroke-width="0.9"/>
<text x="269" y="327.08" font-size="6.6" text-anchor="middle" fill="#333" textLength="6.74" lengthAdjust="spacingAndGlyphs">30</text>
<line x1="287.5" y1="315.8" x2="287.5" y2="318.8" stroke="#404040" stroke-width="0.9"/>
<text x="287.5" y="327.08" font-size="6.6" text-anchor="middle" fill="#333" textLength="10.11" lengthAdjust="spacingAndGlyphs">100</text>
<text x="249.5" y="216.75" font-size="7" fill="#333" stroke="#333" stroke-width="0" font-style="normal" textLength="39" lengthAdjust="spacingAndGlyphs">Bone Marrow</text>
<line x1="247.5" y1="331.6" x2="292.5" y2="331.6" stroke="#444" stroke-width="1.1"/>
<text x="233.5" y="342.27" font-size="8.2" fill="#333" stroke="#333" stroke-width="0.12" font-style="normal" textLength="71.4" lengthAdjust="spacingAndGlyphs">JNJ-75276617 (mg/kg)</text>
<text x="215.91" y="268.4" font-size="8.6" fill="#333" stroke="#333" stroke-width="0.0" text-anchor="middle" font-style="normal" textLength="42.4" lengthAdjust="spacingAndGlyphs" transform="rotate(-90 215.91 268.4)">hCD11b (MFI)</text>
<text x="269" y="262.69" font-size="6.2" text-anchor="middle" font-weight="bold">*</text>
<text x="287.5" y="272.41" font-size="6.2" text-anchor="middle" font-weight="bold">*</text>
<line x1="341.5" y1="221" x2="341.5" y2="315.8" stroke="#404040" stroke-width="1.5"/>
<line x1="338.5" y1="315.8" x2="341.5" y2="315.8" stroke="#404040" stroke-width="0.9"/>
<text x="335.9" y="318.18" font-size="6.6" text-anchor="end" fill="#333" textLength="3.37" lengthAdjust="spacingAndGlyphs">0</text>
<line x1="338.5" y1="292.73" x2="341.5" y2="292.73" stroke="#404040" stroke-width="0.9"/>
<text x="335.9" y="295.1" font-size="6.6" text-anchor="end" fill="#333" textLength="10.11" lengthAdjust="spacingAndGlyphs">100</text>
<line x1="338.5" y1="269.65" x2="341.5" y2="269.65" stroke="#404040" stroke-width="0.9"/>
<text x="335.9" y="272.03" font-size="6.6" text-anchor="end" fill="#333" textLength="10.11" lengthAdjust="spacingAndGlyphs">200</text>
<line x1="338.5" y1="246.57" x2="341.5" y2="246.57" stroke="#404040" stroke-width="0.9"/>
<text x="335.9" y="248.95" font-size="6.6" text-anchor="end" fill="#333" textLength="10.11" lengthAdjust="spacingAndGlyphs">300</text>
<line x1="338.5" y1="223.5" x2="341.5" y2="223.5" stroke="#404040" stroke-width="0.9"/>
<text x="335.9" y="225.88" font-size="6.6" text-anchor="end" fill="#333" textLength="10.11" lengthAdjust="spacingAndGlyphs">400</text>
<rect x="347.2" y="300.34" width="12.4" height="15.46" fill="#134a82"/>
<line x1="353.4" y1="297.34" x2="353.4" y2="303.11" stroke="#333" stroke-width="0.7"/>
<line x1="351.9" y1="297.34" x2="354.9" y2="297.34" stroke="#333" stroke-width="0.7"/>
<rect x="365.7" y="271.27" width="12.4" height="44.53" fill="#134a82"/>
<line x1="371.9" y1="268.5" x2="371.9" y2="273.11" stroke="#333" stroke-width="0.7"/>
<line x1="370.4" y1="268.5" x2="373.4" y2="268.5" stroke="#333" stroke-width="0.7"/>
<rect x="383.5" y="256.96" width="12.4" height="58.84" fill="#134a82"/>
<line x1="389.7" y1="254.65" x2="389.7" y2="259.27" stroke="#333" stroke-width="0.7"/>
<line x1="388.2" y1="254.65" x2="391.2" y2="254.65" stroke="#333" stroke-width="0.7"/>
<circle cx="351.4" cy="297.34" r="1.2" fill="#111" stroke="none" stroke-width="0.8"/>
<circle cx="355.4" cy="298.49" r="1.2" fill="#111" stroke="none" stroke-width="0.8"/>
<circle cx="353.4" cy="303.11" r="1.2" fill="#111" stroke="none" stroke-width="0.8"/>
<circle cx="369.9" cy="268.5" r="1.2" fill="#111" stroke="none" stroke-width="0.8"/>
<circle cx="373.9" cy="270.8" r="1.2" fill="#111" stroke="none" stroke-width="0.8"/>
<circle cx="371.9" cy="271.96" r="1.2" fill="#111" stroke="none" stroke-width="0.8"/>
<circle cx="387.7" cy="254.65" r="1.2" fill="#111" stroke="none" stroke-width="0.8"/>
<circle cx="391.7" cy="256.27" r="1.2" fill="#111" stroke="none" stroke-width="0.8"/>
<circle cx="389.7" cy="258.11" r="1.2" fill="#111" stroke="none" stroke-width="0.8"/>
<line x1="341.5" y1="315.8" x2="401.6" y2="315.8" stroke="#404040" stroke-width="1.5"/>
<line x1="353.4" y1="315.8" x2="353.4" y2="318.8" stroke="#404040" stroke-width="0.9"/>
<text x="353.4" y="327.08" font-size="6.6" text-anchor="middle" fill="#333" textLength="3.37" lengthAdjust="spacingAndGlyphs">0</text>
<line x1="371.9" y1="315.8" x2="371.9" y2="318.8" stroke="#404040" stroke-width="0.9"/>
<text x="371.9" y="327.08" font-size="6.6" text-anchor="middle" fill="#333" textLength="6.74" lengthAdjust="spacingAndGlyphs">30</text>
<line x1="389.7" y1="315.8" x2="389.7" y2="318.8" stroke="#404040" stroke-width="0.9"/>
<text x="389.7" y="327.08" font-size="6.6" text-anchor="middle" fill="#333" textLength="10.11" lengthAdjust="spacingAndGlyphs">100</text>
<text x="352" y="216.75" font-size="7" fill="#333" stroke="#333" stroke-width="0" font-style="normal" textLength="39" lengthAdjust="spacingAndGlyphs">Bone Marrow</text>
<line x1="350.4" y1="331.6" x2="394.7" y2="331.6" stroke="#444" stroke-width="1.1"/>
<text x="337.8" y="342.27" font-size="8.2" fill="#333" stroke="#333" stroke-width="0.12" font-style="normal" textLength="71.4" lengthAdjust="spacingAndGlyphs">JNJ-75276617 (mg/kg)</text>
<text x="319.21" y="268.4" font-size="8.6" fill="#333" stroke="#333" stroke-width="0.0" text-anchor="middle" font-style="normal" textLength="38.3" lengthAdjust="spacingAndGlyphs" transform="rotate(-90 319.21 268.4)">hCD13 (MFI)</text>
<text x="371.9" y="266.1" font-size="6.2" text-anchor="middle" font-weight="bold">*</text>
<text x="389.7" y="251.56" font-size="6.2" text-anchor="middle" font-weight="bold">*</text>
<line x1="447.3" y1="221" x2="447.3" y2="315.8" stroke="#404040" stroke-width="1.5"/>
<line x1="444.3" y1="315.8" x2="447.3" y2="315.8" stroke="#404040" stroke-width="0.9"/>
<text x="441.7" y="318.18" font-size="6.6" text-anchor="end" fill="#333" textLength="3.37" lengthAdjust="spacingAndGlyphs">0</text>
<line x1="444.3" y1="292.73" x2="447.3" y2="292.73" stroke="#404040" stroke-width="0.9"/>
<text x="441.7" y="295.1" font-size="6.6" text-anchor="end" fill="#333" textLength="13.48" lengthAdjust="spacingAndGlyphs">2000</text>
<line x1="444.3" y1="269.65" x2="447.3" y2="269.65" stroke="#404040" stroke-width="0.9"/>
<text x="441.7" y="272.03" font-size="6.6" text-anchor="end" fill="#333" textLength="13.48" lengthAdjust="spacingAndGlyphs">4000</text>
<line x1="444.3" y1="246.57" x2="447.3" y2="246.57" stroke="#404040" stroke-width="0.9"/>
<text x="441.7" y="248.95" font-size="6.6" text-anchor="end" fill="#333" textLength="13.48" lengthAdjust="spacingAndGlyphs">6000</text>
<line x1="444.3" y1="223.5" x2="447.3" y2="223.5" stroke="#404040" stroke-width="0.9"/>
<text x="441.7" y="225.88" font-size="6.6" text-anchor="end" fill="#333" textLength="13.48" lengthAdjust="spacingAndGlyphs">8000</text>
<rect x="453.5" y="314.07" width="12.4" height="1.73" fill="#134a82"/>
<rect x="471.4" y="284.65" width="12.4" height="31.15" fill="#134a82"/>
<line x1="477.6" y1="281.19" x2="477.6" y2="288.11" stroke="#333" stroke-width="0.7"/>
<line x1="476.1" y1="281.19" x2="479.1" y2="281.19" stroke="#333" stroke-width="0.7"/>
<rect x="489.4" y="300.8" width="12.4" height="15" fill="#134a82"/>
<line x1="495.6" y1="299.65" x2="495.6" y2="301.95" stroke="#333" stroke-width="0.7"/>
<line x1="494.1" y1="299.65" x2="497.1" y2="299.65" stroke="#333" stroke-width="0.7"/>
<circle cx="456.7" cy="314.07" r="1.2" fill="#111" stroke="none" stroke-width="0.8"/>
<circle cx="459.7" cy="313.72" r="1.2" fill="#111" stroke="none" stroke-width="0.8"/>
<circle cx="462.7" cy="314.18" r="1.2" fill="#111" stroke="none" stroke-width="0.8"/>
<circle cx="475.6" cy="281.76" r="1.2" fill="#111" stroke="none" stroke-width="0.8"/>
<circle cx="479.6" cy="282.92" r="1.2" fill="#111" stroke="none" stroke-width="0.8"/>
<circle cx="477.6" cy="286.96" r="1.2" fill="#111" stroke="none" stroke-width="0.8"/>
<circle cx="493.6" cy="299.88" r="1.2" fill="#111" stroke="none" stroke-width="0.8"/>
<circle cx="497.6" cy="300.22" r="1.2" fill="#111" stroke="none" stroke-width="0.8"/>
<circle cx="495.6" cy="300.8" r="1.2" fill="#111" stroke="none" stroke-width="0.8"/>
<line x1="447.3" y1="315.8" x2="508" y2="315.8" stroke="#404040" stroke-width="1.5"/>
<line x1="459.7" y1="315.8" x2="459.7" y2="318.8" stroke="#404040" stroke-width="0.9"/>
<text x="459.7" y="327.08" font-size="6.6" text-anchor="middle" fill="#333" textLength="3.37" lengthAdjust="spacingAndGlyphs">0</text>
<line x1="477.6" y1="315.8" x2="477.6" y2="318.8" stroke="#404040" stroke-width="0.9"/>
<text x="477.6" y="327.08" font-size="6.6" text-anchor="middle" fill="#333" textLength="6.74" lengthAdjust="spacingAndGlyphs">30</text>
<line x1="495.6" y1="315.8" x2="495.6" y2="318.8" stroke="#404040" stroke-width="0.9"/>
<text x="495.6" y="327.08" font-size="6.6" text-anchor="middle" fill="#333" textLength="10.11" lengthAdjust="spacingAndGlyphs">100</text>
<text x="458.5" y="216.75" font-size="7" fill="#333" stroke="#333" stroke-width="0" font-style="normal" textLength="39" lengthAdjust="spacingAndGlyphs">Bone Marrow</text>
<line x1="456.7" y1="331.6" x2="500.6" y2="331.6" stroke="#444" stroke-width="1.1"/>
<text x="442.3" y="342.27" font-size="8.2" fill="#333" stroke="#333" stroke-width="0.12" font-style="normal" textLength="71.4" lengthAdjust="spacingAndGlyphs">JNJ-75276617 (mg/kg)</text>
<text x="421.01" y="268.4" font-size="8.6" fill="#333" stroke="#333" stroke-width="0.0" text-anchor="middle" font-style="normal" textLength="38.3" lengthAdjust="spacingAndGlyphs" transform="rotate(-90 421.01 268.4)">hCD14 (MFI)</text>
<text x="477.6" y="278.79" font-size="6.2" text-anchor="middle" font-weight="bold">*</text>
<text x="495.6" y="296.67" font-size="6.2" text-anchor="middle" font-weight="bold">*</text>
<text x="0" y="0" font-size="11.19" font-weight="bold" fill="#000" stroke="#000" stroke-width="0.2" transform="translate(7.44 365.85) scale(0.952 1)">F</text>
<text x="53.5" y="376.13" font-size="8.2" fill="#222" stroke="#222" stroke-width="0.0" textLength="110.2" lengthAdjust="spacingAndGlyphs"><tspan font-style="italic">NPM1c AML (LEXFAM-2734)</tspan></text>
<line x1="36.2" y1="383.6" x2="36.2" y2="470.8" stroke="#404040" stroke-width="1.5"/>
<line x1="33.2" y1="470.8" x2="36.2" y2="470.8" stroke="#404040" stroke-width="0.9"/>
<text x="30.6" y="473.18" font-size="6.6" text-anchor="end" fill="#333" textLength="3.37" lengthAdjust="spacingAndGlyphs">0</text>
<line x1="33.2" y1="453.86" x2="36.2" y2="453.86" stroke="#404040" stroke-width="0.9"/>
<text x="30.6" y="456.24" font-size="6.6" text-anchor="end" fill="#333" textLength="6.74" lengthAdjust="spacingAndGlyphs">20</text>
<line x1="33.2" y1="436.92" x2="36.2" y2="436.92" stroke="#404040" stroke-width="0.9"/>
<text x="30.6" y="439.3" font-size="6.6" text-anchor="end" fill="#333" textLength="6.74" lengthAdjust="spacingAndGlyphs">40</text>
<line x1="33.2" y1="419.98" x2="36.2" y2="419.98" stroke="#404040" stroke-width="0.9"/>
<text x="30.6" y="422.36" font-size="6.6" text-anchor="end" fill="#333" textLength="6.74" lengthAdjust="spacingAndGlyphs">60</text>
<line x1="33.2" y1="403.04" x2="36.2" y2="403.04" stroke="#404040" stroke-width="0.9"/>
<text x="30.6" y="405.42" font-size="6.6" text-anchor="end" fill="#333" textLength="6.74" lengthAdjust="spacingAndGlyphs">80</text>
<line x1="33.2" y1="386.1" x2="36.2" y2="386.1" stroke="#404040" stroke-width="0.9"/>
<text x="30.6" y="388.48" font-size="6.6" text-anchor="end" fill="#333" textLength="10.11" lengthAdjust="spacingAndGlyphs">100</text>
<line x1="36.2" y1="470.8" x2="178.5" y2="470.8" stroke="#404040" stroke-width="1.5"/>
<line x1="36.2" y1="470.8" x2="36.2" y2="473.8" stroke="#404040" stroke-width="0.9"/>
<text x="36.2" y="482.58" font-size="6.6" text-anchor="middle" fill="#333" textLength="3.37" lengthAdjust="spacingAndGlyphs">0</text>
<line x1="56.2" y1="470.8" x2="56.2" y2="473.8" stroke="#404040" stroke-width="0.9"/>
<text x="56.2" y="482.58" font-size="6.6" text-anchor="middle" fill="#333" textLength="6.74" lengthAdjust="spacingAndGlyphs">20</text>
<line x1="76.2" y1="470.8" x2="76.2" y2="473.8" stroke="#404040" stroke-width="0.9"/>
<text x="76.2" y="482.58" font-size="6.6" text-anchor="middle" fill="#333" textLength="6.74" lengthAdjust="spacingAndGlyphs">40</text>
<line x1="96.2" y1="470.8" x2="96.2" y2="473.8" stroke="#404040" stroke-width="0.9"/>
<text x="96.2" y="482.58" font-size="6.6" text-anchor="middle" fill="#333" textLength="6.74" lengthAdjust="spacingAndGlyphs">60</text>
<line x1="116.2" y1="470.8" x2="116.2" y2="473.8" stroke="#404040" stroke-width="0.9"/>
<text x="116.2" y="482.58" font-size="6.6" text-anchor="middle" fill="#333" textLength="6.74" lengthAdjust="spacingAndGlyphs">80</text>
<line x1="136.2" y1="470.8" x2="136.2" y2="473.8" stroke="#404040" stroke-width="0.9"/>
<text x="136.2" y="482.58" font-size="6.6" text-anchor="middle" fill="#333" textLength="10.11" lengthAdjust="spacingAndGlyphs">100</text>
<line x1="156.2" y1="470.8" x2="156.2" y2="473.8" stroke="#404040" stroke-width="0.9"/>
<text x="156.2" y="482.58" font-size="6.6" text-anchor="middle" fill="#333" textLength="10.11" lengthAdjust="spacingAndGlyphs">120</text>
<line x1="176.2" y1="470.8" x2="176.2" y2="473.8" stroke="#404040" stroke-width="0.9"/>
<text x="176.2" y="482.58" font-size="6.6" text-anchor="middle" fill="#333" textLength="10.11" lengthAdjust="spacingAndGlyphs">140</text>
<line x1="57.3" y1="486.7" x2="90.4" y2="486.7" stroke="#555" stroke-width="1.2"/>
<text x="71.5" y="497.41" font-size="8.6" fill="#333" stroke="#333" stroke-width="0.12" font-style="normal" textLength="74.2" lengthAdjust="spacingAndGlyphs">Days post tumor implant</text>
<text x="14.58" y="428" font-size="8.8" fill="#333" stroke="#333" stroke-width="0.0" text-anchor="middle" font-style="normal" textLength="47" lengthAdjust="spacingAndGlyphs" transform="rotate(-90 14.58 428)">Percent survival</text>
<line x1="37" y1="428.5" x2="178" y2="428.5" stroke="#555" stroke-width="0.8" stroke-dasharray="0.9 1.3"/>
<path d="M36.2,386.1 H170.4" stroke="#3d5f85" stroke-width="1.1" fill="none"/>
<path d="M64,386.1 H69.4 V394.57 H170.4" stroke="#3d5f85" stroke-width="1.1" fill="none"/>
<path d="M158.3,386.1 V411.51 H160.2 V436.92 H167.3 V470.8" stroke="#3d5f85" stroke-width="1.1" fill="none"/>
<path d="M167.8,386.1 V403.04 H170.4" stroke="#3d5f85" stroke-width="1.1" fill="none"/>
<circle cx="170.4" cy="386.1" r="1.6" fill="#fff" stroke="#3d5f85" stroke-width="0.7"/>
<path d="M168.7,393.55L172.1,393.55L170.4,396.1Z" fill="#fff" stroke="#3d5f85" stroke-width="0.8"/>
<path d="M166.1,404.06L169.5,404.06L167.8,401.51Z" fill="#fff" stroke="#3d5f85" stroke-width="0.8"/>
<path d="M168.7,404.06L172.1,404.06L170.4,401.51Z" fill="#fff" stroke="#3d5f85" stroke-width="0.8"/>
<path d="M69.4,392.77L71.2,394.57L69.4,396.37L67.6,394.57Z" fill="#fff" stroke="#3d5f85" stroke-width="0.8"/>
<path d="M159.3,409.91L160.9,411.51L159.3,413.11L157.7,411.51Z" fill="#fff" stroke="#3d5f85" stroke-width="0.8"/>
<path d="M159.3,418.38L160.9,419.98L159.3,421.58L157.7,419.98Z" fill="#fff" stroke="#3d5f85" stroke-width="0.8"/>
<circle cx="160.2" cy="436.92" r="1.5" fill="#fff" stroke="#3d5f85" stroke-width="0.7"/>
<path d="M36.2,386.1 H64.8 V394.57 H108.5 V419.98 H110.6 V445.39 H113.9 V453.86 H131.4 V470.8" stroke="#c43656" stroke-width="1.1" fill="none"/>
<rect x="63.4" y="393.17" width="2.8" height="2.8" fill="#a0102a"/>
<rect x="107.1" y="418.58" width="2.8" height="2.8" fill="#a0102a"/>
<rect x="109.2" y="443.99" width="2.8" height="2.8" fill="#a0102a"/>
<rect x="112.5" y="452.46" width="2.8" height="2.8" fill="#a0102a"/>
<rect x="130" y="469.4" width="2.8" height="2.8" fill="#a0102a"/>
<text x="176" y="388.7" font-size="6.2" text-anchor="middle" font-weight="bold">*</text>
<text x="176" y="397.4" font-size="6.2" text-anchor="middle" font-weight="bold">*</text>
<text x="176" y="405.6" font-size="6.2" text-anchor="middle" font-weight="bold">*</text>
<text x="176" y="442.1" font-size="6.2" text-anchor="middle" font-weight="bold">*</text>
<line x1="186.6" y1="386.4" x2="192.9" y2="386.4" stroke="#c8102e" stroke-width="0.9"/>
<rect x="188" y="385" width="2.8" height="2.8" fill="#a0102a"/>
<line x1="186.6" y1="396.3" x2="192.9" y2="396.3" stroke="#3d5f85" stroke-width="0.9"/>
<path d="M189.4,394.5L191.2,396.3L189.4,398.1L187.6,396.3Z" fill="#fff" stroke="#3d5f85" stroke-width="0.8"/>
<line x1="186.6" y1="413.6" x2="192.9" y2="413.6" stroke="#3d5f85" stroke-width="0.9"/>
<path d="M187.6,412.52L191.2,412.52L189.4,415.22Z" fill="#fff" stroke="#3d5f85" stroke-width="0.8"/>
<line x1="186.6" y1="431.4" x2="192.9" y2="431.4" stroke="#3d5f85" stroke-width="0.9"/>
<circle cx="189.4" cy="431.4" r="1.6" fill="#fff" stroke="#3d5f85" stroke-width="0.7"/>
<line x1="186.6" y1="448.7" x2="192.9" y2="448.7" stroke="#3d5f85" stroke-width="0.9"/>
<path d="M187.6,449.78L191.2,449.78L189.4,447.08Z" fill="#fff" stroke="#3d5f85" stroke-width="0.8"/>
<text x="196.3" y="388.92" font-size="7.2" fill="#333" stroke="#333" stroke-width="0" font-style="normal" textLength="38.4" lengthAdjust="spacingAndGlyphs">20% HP-β-CD</text>
<text x="196.3" y="398.82" font-size="7.2" fill="#333" stroke="#333" stroke-width="0" font-style="normal" textLength="41.1" lengthAdjust="spacingAndGlyphs">JNJ-75276617</text>
<text x="196.3" y="406.42" font-size="7.2" fill="#333" stroke="#333" stroke-width="0" font-style="normal" textLength="27.9" lengthAdjust="spacingAndGlyphs">10 mg/kg</text>
<text x="196.3" y="416.12" font-size="7.2" fill="#333" stroke="#333" stroke-width="0" font-style="normal" textLength="41.1" lengthAdjust="spacingAndGlyphs">JNJ-75276617</text>
<text x="196.3" y="423.72" font-size="7.2" fill="#333" stroke="#333" stroke-width="0" font-style="normal" textLength="27.9" lengthAdjust="spacingAndGlyphs">30 mg/kg</text>
<text x="196.3" y="433.92" font-size="7.2" fill="#333" stroke="#333" stroke-width="0" font-style="normal" textLength="41.1" lengthAdjust="spacingAndGlyphs">JNJ-75276617</text>
<text x="196.3" y="441.52" font-size="7.2" fill="#333" stroke="#333" stroke-width="0" font-style="normal" textLength="27.9" lengthAdjust="spacingAndGlyphs">50 mg/kg</text>
<text x="196.3" y="451.22" font-size="7.2" fill="#333" stroke="#333" stroke-width="0" font-style="normal" textLength="41.1" lengthAdjust="spacingAndGlyphs">JNJ-75276617</text>
<text x="196.3" y="458.82" font-size="7.2" fill="#333" stroke="#333" stroke-width="0" font-style="normal" textLength="30.9" lengthAdjust="spacingAndGlyphs">100 mg/kg</text>
<text x="0" y="0" font-size="11.3" font-weight="bold" fill="#000" stroke="#000" stroke-width="0.2" transform="translate(253.59 366.04) scale(0.996 1)">G</text>
<text x="305.4" y="375.83" font-size="8.2" fill="#222" stroke="#222" stroke-width="0.0" textLength="87.9" lengthAdjust="spacingAndGlyphs"><tspan font-style="italic">NPM1c AML (AM7577)</tspan></text>
<line x1="281.7" y1="382.1" x2="281.7" y2="470.6" stroke="#404040" stroke-width="1.5"/>
<line x1="278.7" y1="470.6" x2="281.7" y2="470.6" stroke="#404040" stroke-width="0.9"/>
<text x="276.1" y="472.98" font-size="6.6" text-anchor="end" fill="#333" textLength="3.37" lengthAdjust="spacingAndGlyphs">0</text>
<line x1="278.7" y1="453.4" x2="281.7" y2="453.4" stroke="#404040" stroke-width="0.9"/>
<text x="276.1" y="455.78" font-size="6.6" text-anchor="end" fill="#333" textLength="6.74" lengthAdjust="spacingAndGlyphs">20</text>
<line x1="278.7" y1="436.2" x2="281.7" y2="436.2" stroke="#404040" stroke-width="0.9"/>
<text x="276.1" y="438.58" font-size="6.6" text-anchor="end" fill="#333" textLength="6.74" lengthAdjust="spacingAndGlyphs">40</text>
<line x1="278.7" y1="419" x2="281.7" y2="419" stroke="#404040" stroke-width="0.9"/>
<text x="276.1" y="421.38" font-size="6.6" text-anchor="end" fill="#333" textLength="6.74" lengthAdjust="spacingAndGlyphs">60</text>
<line x1="278.7" y1="401.8" x2="281.7" y2="401.8" stroke="#404040" stroke-width="0.9"/>
<text x="276.1" y="404.18" font-size="6.6" text-anchor="end" fill="#333" textLength="6.74" lengthAdjust="spacingAndGlyphs">80</text>
<line x1="278.7" y1="384.6" x2="281.7" y2="384.6" stroke="#404040" stroke-width="0.9"/>
<text x="276.1" y="386.98" font-size="6.6" text-anchor="end" fill="#333" textLength="10.11" lengthAdjust="spacingAndGlyphs">100</text>
<line x1="281.7" y1="470.6" x2="415.6" y2="470.6" stroke="#404040" stroke-width="1.5"/>
<line x1="281.7" y1="470.6" x2="281.7" y2="473.6" stroke="#404040" stroke-width="0.9"/>
<text x="281.7" y="481.58" font-size="6.6" text-anchor="middle" fill="#333" textLength="3.37" lengthAdjust="spacingAndGlyphs">0</text>
<line x1="299.59" y1="470.6" x2="299.59" y2="473.6" stroke="#404040" stroke-width="0.9"/>
<text x="299.59" y="481.58" font-size="6.6" text-anchor="middle" fill="#333" textLength="6.74" lengthAdjust="spacingAndGlyphs">20</text>
<line x1="317.47" y1="470.6" x2="317.47" y2="473.6" stroke="#404040" stroke-width="0.9"/>
<text x="317.47" y="481.58" font-size="6.6" text-anchor="middle" fill="#333" textLength="6.74" lengthAdjust="spacingAndGlyphs">40</text>
<line x1="335.36" y1="470.6" x2="335.36" y2="473.6" stroke="#404040" stroke-width="0.9"/>
<text x="335.36" y="481.58" font-size="6.6" text-anchor="middle" fill="#333" textLength="6.74" lengthAdjust="spacingAndGlyphs">60</text>
<line x1="353.24" y1="470.6" x2="353.24" y2="473.6" stroke="#404040" stroke-width="0.9"/>
<text x="353.24" y="481.58" font-size="6.6" text-anchor="middle" fill="#333" textLength="6.74" lengthAdjust="spacingAndGlyphs">80</text>
<line x1="371.13" y1="470.6" x2="371.13" y2="473.6" stroke="#404040" stroke-width="0.9"/>
<text x="371.13" y="481.58" font-size="6.6" text-anchor="middle" fill="#333" textLength="10.11" lengthAdjust="spacingAndGlyphs">100</text>
<line x1="389.02" y1="470.6" x2="389.02" y2="473.6" stroke="#404040" stroke-width="0.9"/>
<text x="389.02" y="481.58" font-size="6.6" text-anchor="middle" fill="#333" textLength="10.11" lengthAdjust="spacingAndGlyphs">120</text>
<line x1="406.9" y1="470.6" x2="406.9" y2="473.6" stroke="#404040" stroke-width="0.9"/>
<text x="406.9" y="481.58" font-size="6.6" text-anchor="middle" fill="#333" textLength="10.11" lengthAdjust="spacingAndGlyphs">140</text>
<line x1="307.7" y1="486.1" x2="344.6" y2="486.1" stroke="#555" stroke-width="1.2"/>
<text x="312" y="497.21" font-size="8.6" fill="#333" stroke="#333" stroke-width="0.12" font-style="normal" textLength="74" lengthAdjust="spacingAndGlyphs">Days post tumor implant</text>
<text x="261.08" y="426" font-size="8.8" fill="#333" stroke="#333" stroke-width="0.0" text-anchor="middle" font-style="normal" textLength="47" lengthAdjust="spacingAndGlyphs" transform="rotate(-90 261.08 426)">Percent survival</text>
<line x1="282.5" y1="427.3" x2="415.6" y2="427.3" stroke="#555" stroke-width="0.8" stroke-dasharray="0.9 1.3"/>
<path d="M327,384.6 H412.7" stroke="#3d5f85" stroke-width="1.1" fill="none"/>
<path d="M386,384.6 H388.7 V393.2 H412.7" stroke="#3d5f85" stroke-width="1.1" fill="none"/>
<path d="M390,384.6 H392.5 V393.2" stroke="#3d5f85" stroke-width="1.1" fill="none"/>
<path d="M399,393.2 H401.7 V401.8 H412.7" stroke="#3d5f85" stroke-width="1.1" fill="none"/>
<circle cx="412.7" cy="384.6" r="1.6" fill="#fff" stroke="#3d5f85" stroke-width="0.7"/>
<circle cx="412.7" cy="393.2" r="1.6" fill="#fff" stroke="#3d5f85" stroke-width="0.7"/>
<circle cx="388.7" cy="393.2" r="1.4" fill="#fff" stroke="#3d5f85" stroke-width="0.7"/>
<circle cx="392.5" cy="393.2" r="1.4" fill="#fff" stroke="#3d5f85" stroke-width="0.7"/>
<path d="M400,402.82L403.4,402.82L401.7,400.27Z" fill="#fff" stroke="#3d5f85" stroke-width="0.8"/>
<path d="M411,402.82L414.4,402.82L412.7,400.27Z" fill="#fff" stroke="#3d5f85" stroke-width="0.8"/>
<path d="M281.7,384.6 H327.3 V401.8 H329.3 V427.6 H330.8 V444.8 H332.2 V453.4 H333.1 V470.6" stroke="#c43656" stroke-width="1.1" fill="none"/>
<rect x="325.9" y="400.4" width="2.8" height="2.8" fill="#a0102a"/>
<rect x="328.5" y="426.2" width="2.8" height="2.8" fill="#a0102a"/>
<rect x="329.4" y="443.4" width="2.8" height="2.8" fill="#a0102a"/>
<rect x="330.8" y="452" width="2.8" height="2.8" fill="#a0102a"/>
<rect x="331.7" y="469.2" width="2.8" height="2.8" fill="#a0102a"/>
<text x="417.6" y="385.6" font-size="6.2" text-anchor="middle" font-weight="bold">*</text>
<text x="417.6" y="389.1" font-size="6.2" text-anchor="middle" font-weight="bold">*</text>
<text x="417.6" y="396.3" font-size="6.2" text-anchor="middle" font-weight="bold">*</text>
<text x="417.6" y="405" font-size="6.2" text-anchor="middle" font-weight="bold">*</text>
<line x1="426.3" y1="384.5" x2="432" y2="384.5" stroke="#c8102e" stroke-width="0.9"/>
<rect x="427.7" y="383.1" width="2.8" height="2.8" fill="#a0102a"/>
<line x1="426.3" y1="394.6" x2="432" y2="394.6" stroke="#3d5f85" stroke-width="0.9"/>
<circle cx="429.1" cy="394.6" r="1.5" fill="#fff" stroke="#3d5f85" stroke-width="0.7"/>
<line x1="426.3" y1="411.9" x2="432" y2="411.9" stroke="#3d5f85" stroke-width="0.9"/>
<path d="M427.3,412.98L430.9,412.98L429.1,410.28Z" fill="#fff" stroke="#3d5f85" stroke-width="0.8"/>
<line x1="426.3" y1="429.8" x2="432" y2="429.8" stroke="#3d5f85" stroke-width="0.9"/>
<circle cx="429.1" cy="429.8" r="1.5" fill="#fff" stroke="#3d5f85" stroke-width="0.7"/>
<line x1="426.3" y1="447.1" x2="432" y2="447.1" stroke="#3d5f85" stroke-width="0.9"/>
<path d="M427.3,448.18L430.9,448.18L429.1,445.48Z" fill="#fff" stroke="#3d5f85" stroke-width="0.8"/>
<text x="435.8" y="387.02" font-size="7.2" fill="#333" stroke="#333" stroke-width="0" font-style="normal" textLength="38.2" lengthAdjust="spacingAndGlyphs">20% HP-β-CD</text>
<text x="435.8" y="397.12" font-size="7.2" fill="#333" stroke="#333" stroke-width="0" font-style="normal" textLength="41.5" lengthAdjust="spacingAndGlyphs">JNJ-75276617</text>
<text x="435.8" y="405.22" font-size="7.2" fill="#333" stroke="#333" stroke-width="0" font-style="normal" textLength="27.7" lengthAdjust="spacingAndGlyphs">10 mg/kg</text>
<text x="435.8" y="414.42" font-size="7.2" fill="#333" stroke="#333" stroke-width="0" font-style="normal" textLength="41.5" lengthAdjust="spacingAndGlyphs">JNJ-75276617</text>
<text x="435.8" y="422.52" font-size="7.2" fill="#333" stroke="#333" stroke-width="0" font-style="normal" textLength="27.7" lengthAdjust="spacingAndGlyphs">30 mg/kg</text>
<text x="435.8" y="432.32" font-size="7.2" fill="#333" stroke="#333" stroke-width="0" font-style="normal" textLength="41.5" lengthAdjust="spacingAndGlyphs">JNJ-75276617</text>
<text x="435.8" y="440.42" font-size="7.2" fill="#333" stroke="#333" stroke-width="0" font-style="normal" textLength="27.7" lengthAdjust="spacingAndGlyphs">50 mg/kg</text>
<text x="435.8" y="449.62" font-size="7.2" fill="#333" stroke="#333" stroke-width="0" font-style="normal" textLength="41.5" lengthAdjust="spacingAndGlyphs">JNJ-75276617</text>
<text x="435.8" y="457.72" font-size="7.2" fill="#333" stroke="#333" stroke-width="0" font-style="normal" textLength="30.7" lengthAdjust="spacingAndGlyphs">100 mg/kg</text>
<text x="0" y="0" font-size="11.05" font-weight="bold" fill="#000" stroke="#000" stroke-width="0.2" transform="translate(7.06 523.75) scale(1.062 1)">H</text>
<text x="50.8" y="534.03" font-size="8.2" fill="#222" stroke="#222" stroke-width="0.0" textLength="114.6" lengthAdjust="spacingAndGlyphs"><tspan font-style="italic">KMT2A-r B-ALL (CBAB-62871)</tspan></text>
<line x1="36.2" y1="539.6" x2="36.2" y2="634.6" stroke="#404040" stroke-width="1.5"/>
<line x1="33.2" y1="634.6" x2="36.2" y2="634.6" stroke="#404040" stroke-width="0.9"/>
<text x="30.6" y="636.98" font-size="6.6" text-anchor="end" fill="#333" textLength="3.37" lengthAdjust="spacingAndGlyphs">0</text>
<line x1="33.2" y1="616.1" x2="36.2" y2="616.1" stroke="#404040" stroke-width="0.9"/>
<text x="30.6" y="618.48" font-size="6.6" text-anchor="end" fill="#333" textLength="6.74" lengthAdjust="spacingAndGlyphs">20</text>
<line x1="33.2" y1="597.6" x2="36.2" y2="597.6" stroke="#404040" stroke-width="0.9"/>
<text x="30.6" y="599.98" font-size="6.6" text-anchor="end" fill="#333" textLength="6.74" lengthAdjust="spacingAndGlyphs">40</text>
<line x1="33.2" y1="579.1" x2="36.2" y2="579.1" stroke="#404040" stroke-width="0.9"/>
<text x="30.6" y="581.48" font-size="6.6" text-anchor="end" fill="#333" textLength="6.74" lengthAdjust="spacingAndGlyphs">60</text>
<line x1="33.2" y1="560.6" x2="36.2" y2="560.6" stroke="#404040" stroke-width="0.9"/>
<text x="30.6" y="562.98" font-size="6.6" text-anchor="end" fill="#333" textLength="6.74" lengthAdjust="spacingAndGlyphs">80</text>
<line x1="33.2" y1="542.1" x2="36.2" y2="542.1" stroke="#404040" stroke-width="0.9"/>
<text x="30.6" y="544.48" font-size="6.6" text-anchor="end" fill="#333" textLength="10.11" lengthAdjust="spacingAndGlyphs">100</text>
<line x1="36.2" y1="634.6" x2="180.8" y2="634.6" stroke="#404040" stroke-width="1.5"/>
<line x1="36.2" y1="634.6" x2="36.2" y2="637.6" stroke="#404040" stroke-width="0.9"/>
<text x="36.2" y="646.18" font-size="6.6" text-anchor="middle" fill="#333" textLength="3.37" lengthAdjust="spacingAndGlyphs">0</text>
<line x1="48" y1="634.6" x2="48" y2="637.6" stroke="#404040" stroke-width="0.9"/>
<text x="48" y="646.18" font-size="6.6" text-anchor="middle" fill="#333" textLength="6.74" lengthAdjust="spacingAndGlyphs">10</text>
<line x1="59.8" y1="634.6" x2="59.8" y2="637.6" stroke="#404040" stroke-width="0.9"/>
<text x="59.8" y="646.18" font-size="6.6" text-anchor="middle" fill="#333" textLength="6.74" lengthAdjust="spacingAndGlyphs">20</text>
<line x1="71.6" y1="634.6" x2="71.6" y2="637.6" stroke="#404040" stroke-width="0.9"/>
<text x="71.6" y="646.18" font-size="6.6" text-anchor="middle" fill="#333" textLength="6.74" lengthAdjust="spacingAndGlyphs">30</text>
<line x1="83.4" y1="634.6" x2="83.4" y2="637.6" stroke="#404040" stroke-width="0.9"/>
<text x="83.4" y="646.18" font-size="6.6" text-anchor="middle" fill="#333" textLength="6.74" lengthAdjust="spacingAndGlyphs">40</text>
<line x1="95.2" y1="634.6" x2="95.2" y2="637.6" stroke="#404040" stroke-width="0.9"/>
<text x="95.2" y="646.18" font-size="6.6" text-anchor="middle" fill="#333" textLength="6.74" lengthAdjust="spacingAndGlyphs">50</text>
<line x1="107" y1="634.6" x2="107" y2="637.6" stroke="#404040" stroke-width="0.9"/>
<text x="107" y="646.18" font-size="6.6" text-anchor="middle" fill="#333" textLength="6.74" lengthAdjust="spacingAndGlyphs">60</text>
<line x1="118.8" y1="634.6" x2="118.8" y2="637.6" stroke="#404040" stroke-width="0.9"/>
<text x="118.8" y="646.18" font-size="6.6" text-anchor="middle" fill="#333" textLength="6.74" lengthAdjust="spacingAndGlyphs">70</text>
<line x1="130.6" y1="634.6" x2="130.6" y2="637.6" stroke="#404040" stroke-width="0.9"/>
<text x="130.6" y="646.18" font-size="6.6" text-anchor="middle" fill="#333" textLength="6.74" lengthAdjust="spacingAndGlyphs">80</text>
<line x1="142.4" y1="634.6" x2="142.4" y2="637.6" stroke="#404040" stroke-width="0.9"/>
<text x="142.4" y="646.18" font-size="6.6" text-anchor="middle" fill="#333" textLength="6.74" lengthAdjust="spacingAndGlyphs">90</text>
<line x1="154.2" y1="634.6" x2="154.2" y2="637.6" stroke="#404040" stroke-width="0.9"/>
<text x="154.2" y="646.18" font-size="6.6" text-anchor="middle" fill="#333" textLength="10.11" lengthAdjust="spacingAndGlyphs">100</text>
<line x1="166" y1="634.6" x2="166" y2="637.6" stroke="#404040" stroke-width="0.9"/>
<text x="166" y="646.18" font-size="6.6" text-anchor="middle" fill="#333" textLength="10.11" lengthAdjust="spacingAndGlyphs">110</text>
<line x1="177.8" y1="634.6" x2="177.8" y2="637.6" stroke="#404040" stroke-width="0.9"/>
<text x="177.8" y="646.18" font-size="6.6" text-anchor="middle" fill="#333" textLength="10.11" lengthAdjust="spacingAndGlyphs">120</text>
<line x1="53" y1="650.8" x2="100.6" y2="650.8" stroke="#555" stroke-width="1.2"/>
<text x="71.7" y="661.31" font-size="8.6" fill="#333" stroke="#333" stroke-width="0.12" font-style="normal" textLength="72.7" lengthAdjust="spacingAndGlyphs">Days post tumor implant</text>
<text x="14.58" y="588" font-size="8.8" fill="#333" stroke="#333" stroke-width="0.0" text-anchor="middle" font-style="normal" textLength="47" lengthAdjust="spacingAndGlyphs" transform="rotate(-90 14.58 588)">Percent survival</text>
<line x1="37" y1="588.7" x2="180" y2="588.7" stroke="#555" stroke-width="0.8" stroke-dasharray="0.9 1.3"/>
<path d="M85.4,542.1 H106.9 V555.05 H107.2 V594.83 H110 V608.14 H119.8 V621.37 H123.8 V634.6" stroke="#3d5f85" stroke-width="1.1" fill="none"/>
<path d="M106.9,542.1 H152.5 V581.88 H164.8 V594.83 H167.8 V634.6" stroke="#3d5f85" stroke-width="1.1" fill="none"/>
<path d="M105.2,556.07L108.6,556.07L106.9,553.52Z" fill="#fff" stroke="#3d5f85" stroke-width="0.8"/>
<path d="M105.8,595.85L109.2,595.85L107.5,593.3Z" fill="#fff" stroke="#3d5f85" stroke-width="0.8"/>
<path d="M108.3,609.16L111.7,609.16L110,606.62Z" fill="#fff" stroke="#3d5f85" stroke-width="0.8"/>
<path d="M118.1,622.39L121.5,622.39L119.8,619.84Z" fill="#fff" stroke="#3d5f85" stroke-width="0.8"/>
<path d="M122.1,635.62L125.5,635.62L123.8,633.07Z" fill="#fff" stroke="#3d5f85" stroke-width="0.8"/>
<circle cx="152.5" cy="581.88" r="1.6" fill="#fff" stroke="#3d5f85" stroke-width="0.7"/>
<circle cx="164.8" cy="594.83" r="1.6" fill="#fff" stroke="#3d5f85" stroke-width="0.7"/>
<circle cx="167.8" cy="634.6" r="1.6" fill="#fff" stroke="#3d5f85" stroke-width="0.7"/>
<path d="M36.2,542.1 H85.4 V594.83 H86.9 V634.6" stroke="#c43656" stroke-width="1.1" fill="none"/>
<rect x="84" y="593.43" width="2.8" height="2.8" fill="#a0102a"/>
<rect x="85.5" y="633.2" width="2.8" height="2.8" fill="#a0102a"/>
<text x="113" y="594.1" font-size="6.2" text-anchor="middle" font-weight="bold">*</text>
<text x="169" y="594.1" font-size="6.2" text-anchor="middle" font-weight="bold">*</text>
<line x1="69.5" y1="669.7" x2="75" y2="669.7" stroke="#c8102e" stroke-width="0.9"/>
<rect x="70.9" y="668.3" width="2.8" height="2.8" fill="#a0102a"/>
<line x1="69.5" y1="679.9" x2="75" y2="679.9" stroke="#3d5f85" stroke-width="0.9"/>
<path d="M70.6,680.92L74,680.92L72.3,678.37Z" fill="#fff" stroke="#3d5f85" stroke-width="0.8"/>
<line x1="69.5" y1="689.8" x2="75" y2="689.8" stroke="#3d5f85" stroke-width="0.9"/>
<circle cx="72.3" cy="689.8" r="1.5" fill="#fff" stroke="#3d5f85" stroke-width="0.7"/>
<text x="77.4" y="672.22" font-size="7.2" fill="#333" stroke="#333" stroke-width="0" font-style="normal" textLength="20.1" lengthAdjust="spacingAndGlyphs">Vehicle</text>
<text x="77.4" y="682.42" font-size="7.2" fill="#333" stroke="#333" stroke-width="0" font-style="normal" textLength="41" lengthAdjust="spacingAndGlyphs">JNJ-75276617</text>
<text x="120.5" y="682.42" font-size="7.2" fill="#333" stroke="#333" stroke-width="0" font-style="normal" textLength="27.7" lengthAdjust="spacingAndGlyphs">30 mg/kg</text>
<text x="77.4" y="692.32" font-size="7.2" fill="#333" stroke="#333" stroke-width="0" font-style="normal" textLength="41" lengthAdjust="spacingAndGlyphs">JNJ-75276617</text>
<text x="120.5" y="692.32" font-size="7.2" fill="#333" stroke="#333" stroke-width="0" font-style="normal" textLength="31.3" lengthAdjust="spacingAndGlyphs">100 mg/kg</text>
<text x="0" y="0" font-size="10.32" font-weight="bold" fill="#000" stroke="#000" stroke-width="0.2" transform="translate(209.11 523.55) scale(1.077 1)">I</text>
<text x="315.6" y="534.03" font-size="8.2" fill="#222" stroke="#222" stroke-width="0.0" textLength="115.6" lengthAdjust="spacingAndGlyphs"><tspan font-style="italic">KMT2A-r</tspan><tspan font-style="italic"> B-ALL (CBAB-62871)</tspan></text>
<line x1="238.5" y1="539" x2="238.5" y2="634.5" stroke="#404040" stroke-width="1.5"/>
<line x1="235.5" y1="634.5" x2="238.5" y2="634.5" stroke="#404040" stroke-width="0.9"/>
<text x="232.9" y="636.88" font-size="6.6" text-anchor="end" fill="#333" textLength="3.37" lengthAdjust="spacingAndGlyphs">0</text>
<line x1="235.5" y1="611.25" x2="238.5" y2="611.25" stroke="#404040" stroke-width="0.9"/>
<text x="232.9" y="613.63" font-size="6.6" text-anchor="end" fill="#333" textLength="10.11" lengthAdjust="spacingAndGlyphs">200</text>
<line x1="235.5" y1="588" x2="238.5" y2="588" stroke="#404040" stroke-width="0.9"/>
<text x="232.9" y="590.38" font-size="6.6" text-anchor="end" fill="#333" textLength="10.11" lengthAdjust="spacingAndGlyphs">400</text>
<line x1="235.5" y1="564.75" x2="238.5" y2="564.75" stroke="#404040" stroke-width="0.9"/>
<text x="232.9" y="567.13" font-size="6.6" text-anchor="end" fill="#333" textLength="10.11" lengthAdjust="spacingAndGlyphs">600</text>
<line x1="235.5" y1="541.5" x2="238.5" y2="541.5" stroke="#404040" stroke-width="0.9"/>
<text x="232.9" y="543.88" font-size="6.6" text-anchor="end" fill="#333" textLength="10.11" lengthAdjust="spacingAndGlyphs">800</text>
<rect x="244.6" y="631.59" width="12.4" height="2.91" fill="#134a82"/>
<rect x="262.6" y="629.85" width="12.4" height="4.65" fill="#134a82"/>
<rect x="280.6" y="579.86" width="12.4" height="54.64" fill="#134a82"/>
<line x1="286.8" y1="563.59" x2="286.8" y2="594.98" stroke="#333" stroke-width="0.7"/>
<line x1="285.3" y1="563.59" x2="288.3" y2="563.59" stroke="#333" stroke-width="0.7"/>
<line x1="285.3" y1="594.98" x2="288.3" y2="594.98" stroke="#333" stroke-width="0.7"/>
<circle cx="247.8" cy="631.59" r="1.2" fill="#111" stroke="none" stroke-width="0.8"/>
<circle cx="250.8" cy="630.43" r="1.2" fill="#111" stroke="none" stroke-width="0.8"/>
<circle cx="253.8" cy="631.94" r="1.2" fill="#111" stroke="none" stroke-width="0.8"/>
<circle cx="265.8" cy="629.85" r="1.2" fill="#111" stroke="none" stroke-width="0.8"/>
<circle cx="268.8" cy="629.27" r="1.2" fill="#111" stroke="none" stroke-width="0.8"/>
<circle cx="271.8" cy="629.62" r="1.2" fill="#111" stroke="none" stroke-width="0.8"/>
<circle cx="286.8" cy="563.59" r="1.2" fill="#111" stroke="none" stroke-width="0.8"/>
<circle cx="286.8" cy="579.86" r="1.2" fill="#111" stroke="none" stroke-width="0.8"/>
<circle cx="286.8" cy="594.98" r="1.2" fill="#111" stroke="none" stroke-width="0.8"/>
<line x1="238.5" y1="634.5" x2="299.1" y2="634.5" stroke="#404040" stroke-width="1.5"/>
<line x1="250.8" y1="634.5" x2="250.8" y2="637.5" stroke="#404040" stroke-width="0.9"/>
<text x="250.8" y="646.28" font-size="6.6" text-anchor="middle" fill="#333" textLength="3.37" lengthAdjust="spacingAndGlyphs">0</text>
<line x1="268.8" y1="634.5" x2="268.8" y2="637.5" stroke="#404040" stroke-width="0.9"/>
<text x="268.8" y="646.28" font-size="6.6" text-anchor="middle" fill="#333" textLength="6.74" lengthAdjust="spacingAndGlyphs">30</text>
<line x1="286.8" y1="634.5" x2="286.8" y2="637.5" stroke="#404040" stroke-width="0.9"/>
<text x="286.8" y="646.28" font-size="6.6" text-anchor="middle" fill="#333" textLength="10.11" lengthAdjust="spacingAndGlyphs">100</text>
<line x1="247.8" y1="650.6" x2="291.8" y2="650.6" stroke="#444" stroke-width="1.1"/>
<text x="233.8" y="661.07" font-size="8.2" fill="#333" stroke="#333" stroke-width="0.12" font-style="normal" textLength="71.4" lengthAdjust="spacingAndGlyphs">JNJ-75276617 (mg/kg)</text>
<text x="215.91" y="587" font-size="8.6" fill="#333" stroke="#333" stroke-width="0.0" text-anchor="middle" font-style="normal" textLength="42.4" lengthAdjust="spacingAndGlyphs" transform="rotate(-90 215.91 587)">hCD11b (MFI)</text>
<text x="286.8" y="560.69" font-size="6.2" text-anchor="middle" font-weight="bold">*</text>
<line x1="341.5" y1="539.8" x2="341.5" y2="634.7" stroke="#404040" stroke-width="1.5"/>
<line x1="338.5" y1="620.1" x2="341.5" y2="620.1" stroke="#404040" stroke-width="0.9"/>
<text x="335.9" y="622.48" font-size="6.6" text-anchor="end" fill="#333" textLength="3.37" lengthAdjust="spacingAndGlyphs">0</text>
<line x1="338.5" y1="600.65" x2="341.5" y2="600.65" stroke="#404040" stroke-width="0.9"/>
<text x="335.9" y="603.03" font-size="6.6" text-anchor="end" fill="#333" textLength="10.11" lengthAdjust="spacingAndGlyphs">100</text>
<line x1="338.5" y1="581.2" x2="341.5" y2="581.2" stroke="#404040" stroke-width="0.9"/>
<text x="335.9" y="583.58" font-size="6.6" text-anchor="end" fill="#333" textLength="10.11" lengthAdjust="spacingAndGlyphs">200</text>
<line x1="338.5" y1="561.75" x2="341.5" y2="561.75" stroke="#404040" stroke-width="0.9"/>
<text x="335.9" y="564.13" font-size="6.6" text-anchor="end" fill="#333" textLength="10.11" lengthAdjust="spacingAndGlyphs">300</text>
<line x1="338.5" y1="542.3" x2="341.5" y2="542.3" stroke="#404040" stroke-width="0.9"/>
<text x="335.9" y="544.68" font-size="6.6" text-anchor="end" fill="#333" textLength="10.11" lengthAdjust="spacingAndGlyphs">400</text>
<rect x="347.3" y="620.1" width="12.4" height="7.2" fill="#134a82"/>
<rect x="365.7" y="620.1" width="12.4" height="2.53" fill="#134a82"/>
<rect x="383.5" y="572.84" width="12.4" height="47.26" fill="#134a82"/>
<line x1="389.7" y1="557.86" x2="389.7" y2="590.92" stroke="#333" stroke-width="0.7"/>
<line x1="388.2" y1="557.86" x2="391.2" y2="557.86" stroke="#333" stroke-width="0.7"/>
<line x1="388.2" y1="590.92" x2="391.2" y2="590.92" stroke="#333" stroke-width="0.7"/>
<circle cx="353.5" cy="630.8" r="1.2" fill="#111" stroke="none" stroke-width="0.8"/>
<circle cx="351.5" cy="625.94" r="1.2" fill="#111" stroke="none" stroke-width="0.8"/>
<circle cx="355.5" cy="624.96" r="1.2" fill="#111" stroke="none" stroke-width="0.8"/>
<circle cx="368.9" cy="624.96" r="1.2" fill="#111" stroke="none" stroke-width="0.8"/>
<circle cx="374.9" cy="624.96" r="1.2" fill="#111" stroke="none" stroke-width="0.8"/>
<circle cx="371.9" cy="618.15" r="1.2" fill="#111" stroke="none" stroke-width="0.8"/>
<circle cx="389.7" cy="561.75" r="1.2" fill="#111" stroke="none" stroke-width="0.8"/>
<circle cx="389.7" cy="565.64" r="1.2" fill="#111" stroke="none" stroke-width="0.8"/>
<circle cx="389.7" cy="590.92" r="1.2" fill="#111" stroke="none" stroke-width="0.8"/>
<line x1="338" y1="620.1" x2="401.6" y2="620.1" stroke="#555" stroke-width="0.9"/>
<line x1="341.5" y1="634.7" x2="401.6" y2="634.7" stroke="#404040" stroke-width="1.5"/>
<line x1="353.5" y1="634.7" x2="353.5" y2="637.7" stroke="#404040" stroke-width="0.9"/>
<text x="353.5" y="646.28" font-size="6.6" text-anchor="middle" fill="#333" textLength="3.37" lengthAdjust="spacingAndGlyphs">0</text>
<line x1="371.9" y1="634.7" x2="371.9" y2="637.7" stroke="#404040" stroke-width="0.9"/>
<text x="371.9" y="646.28" font-size="6.6" text-anchor="middle" fill="#333" textLength="6.74" lengthAdjust="spacingAndGlyphs">30</text>
<line x1="389.7" y1="634.7" x2="389.7" y2="637.7" stroke="#404040" stroke-width="0.9"/>
<text x="389.7" y="646.28" font-size="6.6" text-anchor="middle" fill="#333" textLength="10.11" lengthAdjust="spacingAndGlyphs">100</text>
<line x1="350.5" y1="650.6" x2="394.7" y2="650.6" stroke="#444" stroke-width="1.1"/>
<text x="337.6" y="661.07" font-size="8.2" fill="#333" stroke="#333" stroke-width="0.12" font-style="normal" textLength="71.4" lengthAdjust="spacingAndGlyphs">JNJ-75276617 (mg/kg)</text>
<text x="319.21" y="587" font-size="8.6" fill="#333" stroke="#333" stroke-width="0.0" text-anchor="middle" font-style="normal" textLength="38.3" lengthAdjust="spacingAndGlyphs" transform="rotate(-90 319.21 587)">hCD13 (MFI)</text>
<text x="389.7" y="555.46" font-size="6.2" text-anchor="middle" font-weight="bold">*</text>
<line x1="447.3" y1="539.3" x2="447.3" y2="634.2" stroke="#404040" stroke-width="1.5"/>
<line x1="444.3" y1="634.2" x2="447.3" y2="634.2" stroke="#404040" stroke-width="0.9"/>
<text x="441.7" y="636.58" font-size="6.6" text-anchor="end" fill="#333" textLength="3.37" lengthAdjust="spacingAndGlyphs">0</text>
<line x1="444.3" y1="611.1" x2="447.3" y2="611.1" stroke="#404040" stroke-width="0.9"/>
<text x="441.7" y="613.48" font-size="6.6" text-anchor="end" fill="#333" textLength="13.48" lengthAdjust="spacingAndGlyphs">2000</text>
<line x1="444.3" y1="588" x2="447.3" y2="588" stroke="#404040" stroke-width="0.9"/>
<text x="441.7" y="590.38" font-size="6.6" text-anchor="end" fill="#333" textLength="13.48" lengthAdjust="spacingAndGlyphs">4000</text>
<line x1="444.3" y1="564.9" x2="447.3" y2="564.9" stroke="#404040" stroke-width="0.9"/>
<text x="441.7" y="567.28" font-size="6.6" text-anchor="end" fill="#333" textLength="13.48" lengthAdjust="spacingAndGlyphs">6000</text>
<line x1="444.3" y1="541.8" x2="447.3" y2="541.8" stroke="#404040" stroke-width="0.9"/>
<text x="441.7" y="544.18" font-size="6.6" text-anchor="end" fill="#333" textLength="13.48" lengthAdjust="spacingAndGlyphs">8000</text>
<rect x="453.5" y="629" width="12.4" height="5.2" fill="#134a82"/>
<rect x="471.4" y="627.27" width="12.4" height="6.93" fill="#134a82"/>
<rect x="489.4" y="563.75" width="12.4" height="70.46" fill="#134a82"/>
<line x1="495.6" y1="550.46" x2="495.6" y2="577.03" stroke="#333" stroke-width="0.7"/>
<line x1="494.1" y1="550.46" x2="497.1" y2="550.46" stroke="#333" stroke-width="0.7"/>
<line x1="494.1" y1="577.03" x2="497.1" y2="577.03" stroke="#333" stroke-width="0.7"/>
<circle cx="456.7" cy="629" r="1.2" fill="#111" stroke="none" stroke-width="0.8"/>
<circle cx="459.7" cy="628.66" r="1.2" fill="#111" stroke="none" stroke-width="0.8"/>
<circle cx="462.7" cy="629.23" r="1.2" fill="#111" stroke="none" stroke-width="0.8"/>
<circle cx="474.6" cy="627.5" r="1.2" fill="#111" stroke="none" stroke-width="0.8"/>
<circle cx="477.6" cy="626.12" r="1.2" fill="#111" stroke="none" stroke-width="0.8"/>
<circle cx="480.6" cy="627.73" r="1.2" fill="#111" stroke="none" stroke-width="0.8"/>
<circle cx="495.6" cy="550.46" r="1.2" fill="#111" stroke="none" stroke-width="0.8"/>
<circle cx="495.6" cy="563.75" r="1.2" fill="#111" stroke="none" stroke-width="0.8"/>
<circle cx="495.6" cy="577.03" r="1.2" fill="#111" stroke="none" stroke-width="0.8"/>
<line x1="447.3" y1="634.2" x2="508" y2="634.2" stroke="#404040" stroke-width="1.5"/>
<line x1="459.7" y1="634.2" x2="459.7" y2="637.2" stroke="#404040" stroke-width="0.9"/>
<text x="459.7" y="646.28" font-size="6.6" text-anchor="middle" fill="#333" textLength="3.37" lengthAdjust="spacingAndGlyphs">0</text>
<line x1="477.6" y1="634.2" x2="477.6" y2="637.2" stroke="#404040" stroke-width="0.9"/>
<text x="477.6" y="646.28" font-size="6.6" text-anchor="middle" fill="#333" textLength="6.74" lengthAdjust="spacingAndGlyphs">30</text>
<line x1="495.6" y1="634.2" x2="495.6" y2="637.2" stroke="#404040" stroke-width="0.9"/>
<text x="495.6" y="646.28" font-size="6.6" text-anchor="middle" fill="#333" textLength="10.11" lengthAdjust="spacingAndGlyphs">100</text>
<line x1="456.7" y1="650.6" x2="500.6" y2="650.6" stroke="#444" stroke-width="1.1"/>
<text x="442.3" y="661.07" font-size="8.2" fill="#333" stroke="#333" stroke-width="0.12" font-style="normal" textLength="71.4" lengthAdjust="spacingAndGlyphs">JNJ-75276617 (mg/kg)</text>
<text x="421.01" y="587" font-size="8.6" fill="#333" stroke="#333" stroke-width="0.0" text-anchor="middle" font-style="normal" textLength="38.3" lengthAdjust="spacingAndGlyphs" transform="rotate(-90 421.01 587)">hCD14 (MFI)</text>
<text x="495.6" y="548.06" font-size="6.2" text-anchor="middle" font-weight="bold">*</text>
<rect x="0" y="0" width="520" height="1" fill="#6e6e6e"/><rect x="0" y="0" width="1" height="700" fill="#5e5e5e"/><rect x="519" y="0" width="1" height="700" fill="#3c3c3c"/><rect x="0" y="699" width="520" height="1" fill="#3c3c3c"/>
</svg>
</body></html>
